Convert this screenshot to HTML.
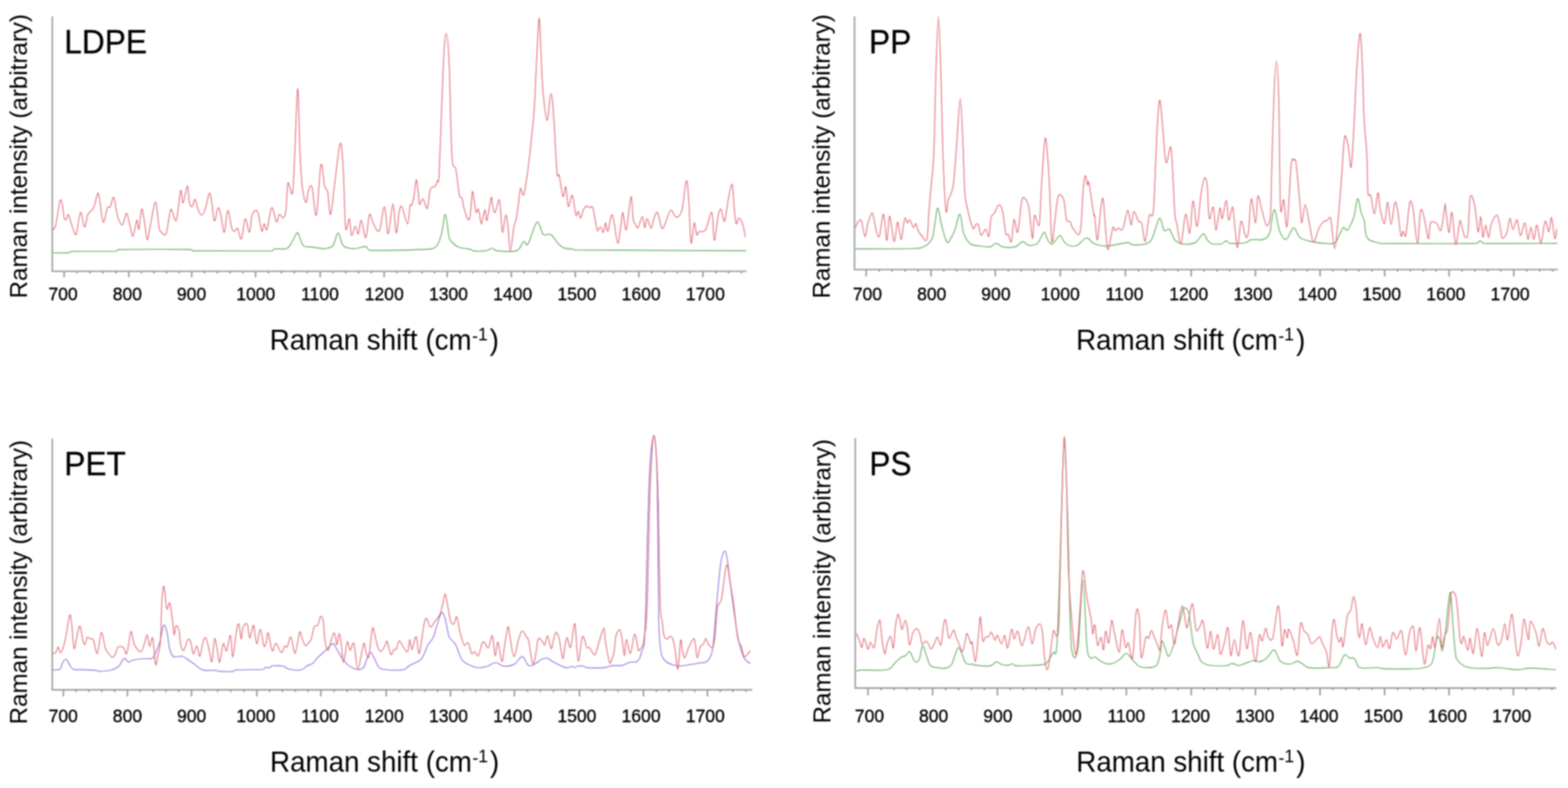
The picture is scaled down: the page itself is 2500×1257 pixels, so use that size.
<!DOCTYPE html>
<html><head><meta charset="utf-8"><title>Raman spectra</title>
<style>html,body{margin:0;padding:0;background:#fff;overflow:hidden}svg{display:block}#w{filter:blur(0.8px)}</style></head>
<body><div id="w"><svg width="2500" height="1257" viewBox="0 0 2500 1257" font-family="'Liberation Sans', Arial, sans-serif">
<rect width="2500" height="1257" fill="#fff"/>
<path d="M83.3,26 L83.3,432.7 L1190,432.7" fill="none" stroke="#a4a4a4" stroke-width="2.6"/>
<path d="M102.2,432.7 v9.5 M122.8,432.7 v3.5 M143.5,432.7 v3.5 M164.1,432.7 v3.5 M184.8,432.7 v3.5 M205.4,432.7 v9.5 M225.4,432.7 v3.5 M245.5,432.7 v3.5 M265.5,432.7 v3.5 M285.6,432.7 v3.5 M305.6,432.7 v9.5 M326.0,432.7 v3.5 M346.4,432.7 v3.5 M366.7,432.7 v3.5 M387.1,432.7 v3.5 M407.5,432.7 v9.5 M428.1,432.7 v3.5 M448.7,432.7 v3.5 M469.3,432.7 v3.5 M489.9,432.7 v3.5 M510.5,432.7 v9.5 M530.9,432.7 v3.5 M551.3,432.7 v3.5 M571.7,432.7 v3.5 M592.1,432.7 v3.5 M612.5,432.7 v9.5 M632.6,432.7 v3.5 M652.7,432.7 v3.5 M672.7,432.7 v3.5 M692.8,432.7 v3.5 M712.9,432.7 v9.5 M733.4,432.7 v3.5 M753.9,432.7 v3.5 M774.3,432.7 v3.5 M794.8,432.7 v3.5 M815.3,432.7 v9.5 M835.7,432.7 v3.5 M856.1,432.7 v3.5 M876.4,432.7 v3.5 M896.8,432.7 v3.5 M917.2,432.7 v9.5 M937.5,432.7 v3.5 M957.8,432.7 v3.5 M978.0,432.7 v3.5 M998.3,432.7 v3.5 M1018.6,432.7 v9.5 M1039.0,432.7 v3.5 M1059.5,432.7 v3.5 M1079.9,432.7 v3.5 M1100.4,432.7 v3.5 M1120.8,432.7 v9.5 M1141.2,432.7 v3.5 M1161.7,432.7 v3.5 M1182.1,432.7 v3.5" stroke="#999" stroke-width="2.4" fill="none"/>
<text transform="translate(100.6,479) scale(1,1.05)" x="0" y="0" font-size="28" text-anchor="middle" fill="#000" stroke="#000" stroke-width="0.45">700</text>
<text transform="translate(203.0,479) scale(1,1.05)" x="0" y="0" font-size="28" text-anchor="middle" fill="#000" stroke="#000" stroke-width="0.45">800</text>
<text transform="translate(305.4,479) scale(1,1.05)" x="0" y="0" font-size="28" text-anchor="middle" fill="#000" stroke="#000" stroke-width="0.45">900</text>
<text transform="translate(407.8,479) scale(1,1.05)" x="0" y="0" font-size="28" text-anchor="middle" fill="#000" stroke="#000" stroke-width="0.45">1000</text>
<text transform="translate(510.2,479) scale(1,1.05)" x="0" y="0" font-size="28" text-anchor="middle" fill="#000" stroke="#000" stroke-width="0.45">1100</text>
<text transform="translate(612.6,479) scale(1,1.05)" x="0" y="0" font-size="28" text-anchor="middle" fill="#000" stroke="#000" stroke-width="0.45">1200</text>
<text transform="translate(715.0,479) scale(1,1.05)" x="0" y="0" font-size="28" text-anchor="middle" fill="#000" stroke="#000" stroke-width="0.45">1300</text>
<text transform="translate(817.4,479) scale(1,1.05)" x="0" y="0" font-size="28" text-anchor="middle" fill="#000" stroke="#000" stroke-width="0.45">1400</text>
<text transform="translate(919.8,479) scale(1,1.05)" x="0" y="0" font-size="28" text-anchor="middle" fill="#000" stroke="#000" stroke-width="0.45">1500</text>
<text transform="translate(1022.2,479) scale(1,1.05)" x="0" y="0" font-size="28" text-anchor="middle" fill="#000" stroke="#000" stroke-width="0.45">1600</text>
<text transform="translate(1124.6,479) scale(1,1.05)" x="0" y="0" font-size="28" text-anchor="middle" fill="#000" stroke="#000" stroke-width="0.45">1700</text>
<path d="M84.5,403.4 C88.8,403.4 105.1,403.6 110.0,403.2 C114.0,402.8 110.0,401.4 114.0,401.0 C126.5,400.6 172.5,401.2 185.0,400.7 C189.0,400.2 185.0,398.6 189.0,398.2 C208.3,397.8 281.2,397.7 301.0,398.0 C307.8,398.3 306.7,399.8 307.8,400.2 C307.8,400.6 307.8,400.2 307.8,400.2 C328.7,400.2 411.5,400.7 433.2,400.2 C437.8,399.7 433.8,397.6 437.8,397.0 C441.8,396.4 452.6,398.4 457.4,396.3 C462.2,394.2 463.7,388.4 466.5,384.2 C469.3,380.0 472.3,371.5 474.3,371.0 C476.3,370.5 476.9,377.5 478.6,381.1 C480.3,384.7 481.6,390.4 484.6,392.5 C487.6,394.6 492.2,393.4 496.7,394.0 C501.2,394.6 508.5,395.8 511.8,396.3 C515.1,396.8 513.2,397.5 516.4,396.8 C519.5,396.1 526.9,396.2 530.7,392.0 C534.5,387.8 536.2,371.8 539.0,371.8 C541.8,371.8 543.2,387.8 547.4,392.0 C551.6,396.2 558.1,396.6 564.1,396.8 C570.1,397.0 578.8,392.9 583.2,393.3 C587.6,393.7 583.2,398.4 590.4,399.2 C605.2,400.0 654.9,398.9 672.3,398.0 C689.7,397.1 689.7,397.8 695.0,393.5 C700.3,389.2 701.5,380.9 704.0,372.3 C706.5,363.7 708.0,341.1 710.0,342.1 C712.0,343.1 714.4,371.2 716.1,378.4 C717.8,385.6 717.6,382.9 720.0,385.5 C722.4,388.1 725.1,391.7 730.3,393.8 C735.5,395.9 747.0,396.9 751.0,397.9 C754.1,398.9 751.0,399.6 754.1,400.0 C758.1,400.4 769.6,400.7 774.8,400.0 C780.0,399.3 782.3,395.9 785.2,395.9 C788.1,395.9 786.0,399.3 792.4,400.0 C798.8,400.7 816.3,402.4 823.4,400.0 C830.5,397.6 831.7,387.3 834.8,385.5 C837.9,383.7 838.2,394.6 841.8,389.4 C845.4,384.2 852.2,357.0 856.2,354.4 C860.2,351.8 862.5,370.3 865.7,373.5 C868.9,376.7 872.9,373.2 875.3,373.5 C877.7,373.8 877.6,373.0 880.0,375.4 C882.4,377.8 886.3,384.5 889.5,387.9 C892.7,391.2 895.1,393.9 899.1,395.5 C903.1,397.1 910.2,396.8 913.4,397.4 C916.6,397.9 913.4,398.4 918.2,398.8 C964.2,399.2 1144.5,399.8 1189.7,400.0" fill="none" stroke="#5aa853" stroke-width="1.4" stroke-linejoin="round"/>
<path d="M84.5,366.9 C85.2,365.6 87.1,366.7 88.9,359.0 C90.8,351.3 93.8,325.9 95.6,320.6 C97.4,315.3 98.4,322.4 99.5,327.0 C100.6,331.6 101.3,344.0 102.3,347.9 C103.3,351.8 104.5,351.1 105.6,350.2 C106.7,349.3 107.7,341.5 109.0,342.4 C110.3,343.3 111.9,351.3 113.4,355.7 C114.9,360.1 116.5,366.2 117.9,369.0 C119.3,371.8 120.0,377.5 121.8,372.4 C123.5,367.3 126.3,340.2 128.4,338.5 C130.5,336.8 132.7,361.8 134.6,362.4 C136.5,363.0 138.1,347.0 140.1,342.4 C142.1,337.8 145.1,336.8 146.8,334.6 C148.5,332.4 148.7,333.3 150.2,329.0 C151.7,324.7 154.3,311.2 155.7,309.0 C157.1,306.8 157.0,308.0 158.5,315.6 C160.0,323.2 162.5,352.0 164.6,354.6 C166.7,357.2 169.4,335.3 171.3,331.2 C173.2,327.1 174.1,332.9 175.8,330.1 C177.5,327.3 179.6,313.2 181.3,314.5 C183.0,315.8 184.5,331.9 185.8,337.9 C187.1,343.8 187.6,346.7 189.1,350.2 C190.6,353.7 193.2,358.8 194.7,359.0 C196.2,359.2 196.9,354.4 198.1,351.3 C199.3,348.2 200.4,339.0 201.9,340.1 C203.4,341.2 205.2,351.9 206.9,358.0 C208.6,364.1 210.1,378.0 212.0,376.9 C213.9,375.8 216.5,353.2 218.1,351.3 C219.7,349.4 220.1,368.7 221.4,365.7 C222.7,362.7 224.4,335.5 225.9,333.5 C227.4,331.5 228.8,345.4 230.3,353.5 C231.8,361.6 233.1,382.0 234.8,382.4 C236.5,382.8 238.2,365.7 240.4,355.7 C242.6,345.7 246.0,321.0 248.2,322.3 C250.4,323.6 252.0,355.3 253.7,363.5 C255.4,371.7 256.3,369.8 258.2,371.3 C260.1,372.8 262.7,378.1 264.9,372.4 C267.1,366.6 269.9,342.7 271.5,336.8 C273.1,330.9 272.9,334.6 274.5,337.0 C276.1,339.4 279.0,356.4 281.3,350.9 C283.6,345.4 286.3,308.6 288.1,304.1 C289.9,299.6 290.1,325.0 291.9,323.7 C293.7,322.4 297.1,296.8 298.7,296.5 C300.3,296.2 300.4,316.6 301.7,322.2 C303.0,327.8 304.8,330.6 306.3,329.8 C307.8,329.1 309.3,317.2 310.8,317.7 C312.3,318.2 313.5,328.5 315.3,332.8 C317.1,337.1 319.4,343.4 321.4,343.4 C323.4,343.4 325.4,338.6 327.4,332.8 C329.4,327.0 331.9,310.6 333.5,308.6 C335.1,306.6 335.9,313.4 337.3,320.7 C338.7,328.0 340.1,350.6 341.8,352.4 C343.6,354.2 346.0,332.6 347.8,331.3 C349.6,330.1 350.8,338.3 352.4,344.9 C354.0,351.4 355.9,372.1 357.7,370.6 C359.5,369.1 361.0,336.8 363.0,335.8 C365.0,334.8 367.9,359.0 369.8,364.5 C371.7,370.0 372.8,369.0 374.3,369.0 C375.8,369.0 377.0,362.5 378.8,364.5 C380.6,366.5 382.9,383.6 384.9,381.1 C386.9,378.6 388.8,351.1 390.9,349.4 C393.0,347.6 395.9,371.4 397.7,370.6 C399.5,369.9 399.9,350.7 401.5,344.9 C403.1,339.1 405.8,336.3 407.5,335.8 C409.2,335.3 410.4,336.3 412.0,341.8 C413.6,347.3 415.9,366.5 417.4,369.0 C418.9,371.5 419.7,357.5 421.1,357.0 C422.5,356.5 423.7,370.3 425.7,366.0 C427.7,361.7 430.7,333.3 433.2,331.3 C435.7,329.3 438.8,352.1 440.8,353.9 C442.8,355.6 443.5,342.8 445.3,341.8 C447.1,340.8 449.6,348.9 451.4,347.9 C453.2,346.9 454.6,345.1 455.9,335.8 C457.2,326.5 457.4,296.4 459.1,291.8 C460.8,287.2 464.5,315.6 466.3,308.5 C468.1,301.4 468.4,276.7 469.8,248.9 C471.2,221.1 473.2,143.1 474.6,141.5 C476.0,139.9 477.0,213.5 478.2,239.3 C479.4,265.2 480.2,282.7 481.8,296.6 C483.4,310.5 486.1,321.3 487.7,322.9 C489.3,324.5 489.7,310.2 491.3,306.0 C492.9,301.8 495.1,291.6 497.3,297.8 C499.5,304.0 502.0,349.0 504.4,343.2 C506.8,337.4 509.4,271.0 511.6,263.2 C513.8,255.4 515.8,289.5 517.6,296.6 C519.4,303.7 520.8,298.4 522.4,306.0 C524.0,313.6 525.1,345.1 527.1,342.0 C529.1,338.9 531.7,306.0 534.3,287.1 C536.9,268.2 540.4,231.0 542.6,228.6 C544.8,226.2 546.0,250.2 547.4,272.7 C548.8,295.2 549.4,350.7 551.0,363.4 C552.6,376.1 555.4,347.1 557.0,349.1 C558.6,351.1 558.9,373.4 560.5,375.4 C562.1,377.4 564.7,361.4 566.5,361.0 C568.3,360.6 569.7,374.6 571.3,373.0 C572.9,371.4 574.0,350.5 576.0,351.5 C578.0,352.5 581.0,380.6 583.2,379.0 C585.4,377.4 587.2,345.8 589.2,342.0 C591.2,338.2 592.5,351.9 595.1,356.3 C597.7,360.7 601.7,372.6 604.7,368.2 C607.7,363.8 610.6,329.2 613.0,330.0 C615.4,330.8 616.8,373.9 619.0,373.0 C621.2,372.1 624.3,325.1 626.4,324.9 C628.5,324.7 630.0,369.4 631.7,371.6 C633.4,373.8 635.0,345.2 636.5,338.2 C638.0,331.2 638.5,326.5 640.7,329.7 C642.9,332.9 647.6,357.5 649.8,357.3 C651.9,357.1 652.5,333.8 653.6,328.7 C654.7,323.6 655.4,329.7 656.5,326.8 C657.6,323.9 659.1,318.2 660.3,311.5 C661.5,304.8 662.5,287.3 663.6,286.7 C664.7,286.1 666.1,301.2 667.0,307.7 C667.9,314.2 667.6,324.2 668.9,325.8 C670.2,327.4 672.5,316.2 674.6,317.3 C676.7,318.4 679.4,335.1 681.3,332.5 C683.2,329.9 684.0,307.9 686.1,302.0 C688.2,296.1 691.8,299.4 693.7,297.2 C695.6,295.0 696.4,292.9 697.5,288.6 C698.6,284.3 698.8,302.9 700.4,271.5 C702.0,240.1 705.1,136.7 707.0,100.4 C708.9,64.1 710.1,53.6 711.6,53.6 C713.1,53.6 714.6,67.9 716.1,100.4 C717.6,132.9 718.8,220.3 720.6,248.5 C722.4,276.7 724.7,259.2 726.7,269.6 C728.7,280.0 730.8,303.2 732.4,311.0 C734.0,318.8 735.4,312.8 736.6,316.2 C737.8,319.6 738.1,326.0 739.7,331.7 C741.3,337.4 744.7,348.6 746.4,350.3 C748.1,352.0 748.9,349.5 750.0,342.1 C751.1,334.7 752.1,309.3 753.1,305.9 C754.1,302.4 755.2,315.9 756.2,321.4 C757.2,326.9 758.2,336.9 759.3,339.0 C760.4,341.1 761.6,330.9 762.9,333.8 C764.2,336.7 766.0,354.1 767.1,356.5 C768.2,358.9 768.7,351.9 769.7,348.3 C770.7,344.7 772.2,334.3 773.3,334.8 C774.4,335.3 774.8,354.7 776.4,351.4 C778.0,348.1 781.6,319.3 783.1,315.2 C784.6,311.1 784.2,322.6 785.2,326.6 C786.2,330.6 787.5,340.4 789.3,339.0 C791.1,337.6 794.5,317.8 796.0,318.3 C797.5,318.8 797.7,333.3 798.6,342.1 C799.5,350.9 799.9,370.8 801.2,371.0 C802.5,371.2 804.9,344.5 806.4,343.1 C807.9,341.7 808.8,353.3 810.0,362.8 C811.2,372.3 812.1,400.0 813.6,400.0 C815.1,400.0 817.8,371.2 819.3,362.8 C820.8,354.4 821.7,355.3 822.9,349.3 C824.1,343.3 825.4,334.7 826.5,326.6 C827.6,318.5 828.3,303.3 829.7,300.7 C831.1,298.1 833.0,314.3 834.8,311.0 C836.6,307.7 838.6,292.4 840.3,281.1 C842.0,269.8 843.1,260.0 845.0,243.0 C846.9,226.0 849.8,200.4 851.4,179.2 C853.0,157.9 853.3,140.4 854.6,115.5 C855.9,90.6 858.1,34.9 859.4,29.6 C860.7,24.3 861.5,64.6 862.5,83.7 C863.5,102.8 864.1,126.1 865.7,144.2 C867.3,162.2 870.0,191.2 872.1,192.0 C874.2,192.8 876.6,149.0 878.5,149.0 C880.4,149.0 881.6,171.0 883.2,192.0 C884.8,213.0 886.6,260.1 888.0,274.8 C889.4,289.5 889.9,273.6 891.5,280.0 C893.1,286.4 896.0,310.4 897.7,313.4 C899.5,316.4 900.6,295.4 902.0,298.1 C903.4,300.8 904.5,327.4 906.2,329.6 C908.0,331.8 910.5,309.3 912.5,311.5 C914.5,313.7 916.6,338.7 918.2,343.0 C919.8,347.3 920.7,336.5 922.0,337.3 C923.3,338.1 924.4,348.4 925.8,347.8 C927.2,347.2 928.9,336.7 930.6,333.5 C932.4,330.3 934.7,329.0 936.3,328.7 C937.9,328.4 938.7,331.2 940.1,331.5 C941.5,331.8 943.5,327.7 944.9,330.6 C946.3,333.5 947.4,342.5 948.7,348.7 C950.0,354.9 951.1,365.6 952.5,367.8 C953.9,370.0 955.7,361.6 957.3,362.1 C958.9,362.6 960.8,371.8 962.1,370.7 C963.5,369.6 964.2,355.7 965.4,355.4 C966.6,355.1 967.6,370.9 969.2,368.8 C970.8,366.7 973.3,345.1 975.0,343.0 C976.7,340.9 977.6,348.9 979.3,356.4 C981.0,363.9 983.2,387.1 985.0,387.9 C986.8,388.7 988.4,369.2 989.8,361.1 C991.1,353.0 991.7,338.2 993.1,339.2 C994.5,340.2 996.6,369.3 998.4,366.9 C1000.2,364.5 1002.7,333.5 1004.1,324.9 C1005.5,316.3 1006.0,311.3 1006.9,315.3 C1007.8,319.3 1008.5,342.2 1009.5,349.1 C1010.5,356.0 1011.4,354.5 1012.7,356.8 C1014.0,359.1 1015.3,365.0 1017.2,363.1 C1019.1,361.2 1022.4,345.3 1024.2,345.3 C1026.0,345.3 1026.7,362.5 1028.0,363.1 C1029.3,363.7 1030.1,348.9 1031.8,349.1 C1033.5,349.3 1036.5,364.2 1038.2,364.4 C1039.9,364.6 1040.3,354.6 1042.0,350.4 C1043.7,346.1 1046.2,336.6 1048.4,338.9 C1050.6,341.2 1053.1,362.3 1055.4,364.4 C1057.7,366.5 1060.1,356.6 1062.4,351.7 C1064.7,346.8 1066.8,336.0 1069.4,335.1 C1072.1,334.2 1075.3,346.6 1078.3,346.6 C1081.3,346.6 1084.5,344.8 1087.2,335.1 C1089.9,325.4 1092.4,291.6 1094.2,288.6 C1096.0,285.6 1096.7,300.9 1098.0,317.3 C1099.3,333.8 1100.3,380.9 1101.8,387.3 C1103.3,393.7 1105.4,357.6 1106.9,355.5 C1108.4,353.4 1109.5,372.3 1110.8,374.6 C1112.1,376.9 1112.3,370.8 1114.6,369.5 C1116.9,368.2 1121.4,372.0 1124.8,366.9 C1128.2,361.8 1132.7,336.1 1135.0,338.9 C1137.3,341.7 1137.1,382.6 1138.8,383.5 C1140.5,384.4 1143.3,352.3 1145.1,344.0 C1146.9,335.7 1147.9,332.3 1149.6,333.8 C1151.3,335.3 1153.3,356.1 1155.3,352.9 C1157.3,349.7 1159.7,324.4 1161.7,314.7 C1163.7,304.9 1165.9,291.6 1167.4,294.4 C1168.9,297.2 1169.5,320.9 1170.6,331.3 C1171.7,341.7 1172.5,354.1 1173.8,356.8 C1175.1,359.6 1176.4,347.4 1178.2,347.8 C1180.0,348.2 1182.9,354.2 1184.6,359.3 C1186.3,364.4 1187.8,375.2 1188.4,378.4" fill="none" stroke="#e2707b" stroke-width="1.5" stroke-linejoin="round"/>
<text transform="translate(102.5,84.8) scale(1.01,1.065)" x="0" y="0" font-size="50" fill="#000" stroke="#000" stroke-width="0.35">LDPE</text>
<text transform="translate(42.5,476) rotate(-90)" x="0" y="0" font-size="38.5" fill="#000">Raman intensity (arbitrary)</text>
<text transform="translate(430.1,557.8) scale(1,1.03)" x="0" y="0" font-size="44.2" fill="#000">Raman shift (cm<tspan x="322.6" y="-11.4" font-size="28">-</tspan><tspan x="331.8" y="-14.1" font-size="28">1</tspan><tspan x="350.7" y="0">)</tspan></text>
<path d="M1362.4,26 L1362.4,430 L2484,430" fill="none" stroke="#a4a4a4" stroke-width="2.6"/>
<path d="M1381.0,430 v11 M1401.7,430 v3.5 M1422.3,430 v3.5 M1443.0,430 v3.5 M1463.6,430 v3.5 M1484.3,430 v11 M1504.8,430 v3.5 M1525.3,430 v3.5 M1545.9,430 v3.5 M1566.4,430 v3.5 M1586.9,430 v11 M1607.6,430 v3.5 M1628.4,430 v3.5 M1649.1,430 v3.5 M1669.9,430 v3.5 M1690.6,430 v11 M1711.3,430 v3.5 M1732.1,430 v3.5 M1752.8,430 v3.5 M1773.6,430 v3.5 M1794.3,430 v11 M1815.3,430 v3.5 M1836.3,430 v3.5 M1857.2,430 v3.5 M1878.2,430 v3.5 M1899.2,430 v11 M1919.7,430 v3.5 M1940.2,430 v3.5 M1960.6,430 v3.5 M1981.1,430 v3.5 M2001.6,430 v11 M2022.2,430 v3.5 M2042.8,430 v3.5 M2063.5,430 v3.5 M2084.1,430 v3.5 M2104.7,430 v11 M2125.3,430 v3.5 M2145.9,430 v3.5 M2166.5,430 v3.5 M2187.1,430 v3.5 M2207.7,430 v11 M2228.2,430 v3.5 M2248.7,430 v3.5 M2269.3,430 v3.5 M2289.8,430 v3.5 M2310.3,430 v11 M2331.0,430 v3.5 M2351.6,430 v3.5 M2372.3,430 v3.5 M2392.9,430 v3.5 M2413.6,430 v11 M2434.3,430 v3.5 M2454.9,430 v3.5 M2475.6,430 v3.5" stroke="#999" stroke-width="2.4" fill="none"/>
<text transform="translate(1383.0,479) scale(1,1.05)" x="0" y="0" font-size="28" text-anchor="middle" fill="#000" stroke="#000" stroke-width="0.45">700</text>
<text transform="translate(1485.5,479) scale(1,1.05)" x="0" y="0" font-size="28" text-anchor="middle" fill="#000" stroke="#000" stroke-width="0.45">800</text>
<text transform="translate(1587.9,479) scale(1,1.05)" x="0" y="0" font-size="28" text-anchor="middle" fill="#000" stroke="#000" stroke-width="0.45">900</text>
<text transform="translate(1690.4,479) scale(1,1.05)" x="0" y="0" font-size="28" text-anchor="middle" fill="#000" stroke="#000" stroke-width="0.45">1000</text>
<text transform="translate(1792.9,479) scale(1,1.05)" x="0" y="0" font-size="28" text-anchor="middle" fill="#000" stroke="#000" stroke-width="0.45">1100</text>
<text transform="translate(1895.3,479) scale(1,1.05)" x="0" y="0" font-size="28" text-anchor="middle" fill="#000" stroke="#000" stroke-width="0.45">1200</text>
<text transform="translate(1997.8,479) scale(1,1.05)" x="0" y="0" font-size="28" text-anchor="middle" fill="#000" stroke="#000" stroke-width="0.45">1300</text>
<text transform="translate(2100.3,479) scale(1,1.05)" x="0" y="0" font-size="28" text-anchor="middle" fill="#000" stroke="#000" stroke-width="0.45">1400</text>
<text transform="translate(2202.8,479) scale(1,1.05)" x="0" y="0" font-size="28" text-anchor="middle" fill="#000" stroke="#000" stroke-width="0.45">1500</text>
<text transform="translate(2305.2,479) scale(1,1.05)" x="0" y="0" font-size="28" text-anchor="middle" fill="#000" stroke="#000" stroke-width="0.45">1600</text>
<text transform="translate(2407.7,479) scale(1,1.05)" x="0" y="0" font-size="28" text-anchor="middle" fill="#000" stroke="#000" stroke-width="0.45">1700</text>
<path d="M1364.0,397.0 C1379.2,396.9 1437.6,397.1 1455.5,396.6 C1471.4,396.1 1467.0,395.4 1471.4,393.9 C1475.8,392.4 1479.1,390.3 1481.7,387.5 C1484.3,384.7 1485.7,383.2 1487.3,377.0 C1488.9,370.8 1490.2,357.5 1491.5,350.0 C1492.8,342.5 1493.7,330.3 1495.4,332.1 C1497.1,333.9 1499.3,351.8 1501.7,360.8 C1504.1,369.8 1507.3,383.0 1509.7,386.2 C1512.1,389.4 1513.9,383.2 1516.0,380.0 C1518.1,376.8 1520.0,373.5 1522.4,367.1 C1524.8,360.7 1528.0,340.6 1530.4,341.7 C1532.8,342.8 1533.9,365.6 1536.8,373.5 C1539.7,381.4 1544.0,386.3 1547.9,389.4 C1551.8,392.5 1554.9,391.3 1560.0,392.0 C1565.1,392.7 1573.7,394.5 1578.4,393.8 C1583.1,393.1 1585.1,388.0 1588.4,388.0 C1591.8,388.0 1593.5,392.8 1598.5,393.8 C1603.5,394.8 1613.2,395.2 1618.5,393.8 C1623.8,392.4 1626.6,385.9 1630.2,385.5 C1633.8,385.1 1636.3,390.8 1640.2,391.3 C1644.1,391.9 1650.2,391.2 1653.6,388.8 C1656.9,386.4 1658.3,380.2 1660.3,377.1 C1662.2,374.0 1663.6,369.6 1665.3,370.4 C1667.0,371.2 1668.3,378.9 1670.3,382.1 C1672.2,385.3 1674.5,389.9 1677.0,389.6 C1679.5,389.3 1683.1,382.9 1685.3,380.5 C1687.5,378.1 1688.7,374.8 1690.4,375.4 C1692.1,375.9 1693.2,381.1 1695.4,383.8 C1697.6,386.5 1700.1,390.1 1703.7,391.3 C1707.3,392.6 1712.4,393.2 1717.1,391.3 C1721.8,389.4 1727.9,380.3 1732.1,379.6 C1736.3,378.9 1739.1,385.3 1742.1,387.1 C1745.1,388.9 1746.0,389.6 1750.0,390.5 C1754.0,391.4 1757.8,393.0 1765.8,392.4 C1773.8,391.8 1791.6,387.4 1798.0,387.0 C1804.4,386.6 1799.8,389.9 1804.4,390.3 C1809.1,390.7 1820.5,390.8 1825.9,389.2 C1831.3,387.6 1832.9,387.4 1836.7,380.6 C1840.5,373.8 1845.3,350.5 1848.5,348.4 C1851.7,346.2 1853.3,364.8 1856.0,367.7 C1858.7,370.6 1861.7,363.1 1864.6,365.6 C1867.5,368.1 1869.6,378.9 1873.2,382.8 C1876.8,386.7 1880.7,388.5 1886.1,389.2 C1891.5,389.9 1900.0,389.7 1905.4,387.0 C1910.8,384.3 1915.0,373.8 1918.3,373.1 C1921.6,372.4 1922.7,380.1 1925.0,382.7 C1927.3,385.3 1928.2,387.9 1932.0,388.9 C1935.8,389.9 1943.9,389.7 1947.7,388.9 C1951.5,388.1 1952.4,384.1 1954.7,384.0 C1957.0,383.9 1956.5,387.9 1961.7,388.4 C1967.0,388.9 1980.7,388.1 1986.2,387.1 C1991.8,386.1 1990.6,383.1 1995.0,382.3 C1999.4,381.5 2008.1,383.1 2012.5,382.3 C2016.9,381.5 2019.0,380.1 2021.2,377.5 C2023.4,374.9 2024.6,370.6 2025.6,367.0 C2026.6,363.4 2026.0,361.0 2027.1,355.6 C2028.2,350.2 2030.2,332.4 2032.4,334.6 C2034.6,336.8 2037.2,360.8 2040.2,368.7 C2043.2,376.6 2047.0,382.7 2050.7,381.8 C2054.4,380.9 2058.8,363.9 2062.5,363.5 C2066.2,363.1 2068.0,375.5 2073.0,379.2 C2078.0,382.9 2086.5,384.3 2092.7,385.8 C2098.9,387.3 2104.2,387.7 2110.0,388.0 C2115.8,388.3 2123.3,390.1 2127.7,387.6 C2132.1,385.1 2134.1,377.0 2136.5,372.8 C2138.9,368.6 2140.4,363.5 2142.4,362.5 C2144.4,361.5 2145.6,369.7 2148.3,367.0 C2151.0,364.3 2155.9,354.7 2158.6,346.3 C2161.3,337.9 2162.5,317.9 2164.5,316.9 C2166.5,315.9 2168.7,334.7 2170.4,340.4 C2172.2,346.1 2173.8,345.8 2175.0,351.2 C2176.2,356.6 2176.4,368.0 2177.6,373.1 C2178.8,378.2 2179.5,379.7 2182.0,381.9 C2184.5,384.1 2189.3,385.1 2192.5,386.2 C2195.7,387.3 2197.8,388.0 2201.2,388.4 C2204.6,388.8 2201.2,388.5 2213.1,388.5 C2238.6,388.5 2329.8,388.9 2354.0,388.3 C2358.0,387.7 2356.7,385.6 2358.0,385.0 C2359.3,384.4 2360.7,384.4 2362.0,385.0 C2363.3,385.6 2362.0,387.8 2366.0,388.3 C2386.2,388.9 2463.5,388.3 2483.0,388.3" fill="none" stroke="#5aa853" stroke-width="1.4" stroke-linejoin="round"/>
<path d="M1364.0,363.6 C1364.7,362.0 1366.4,356.0 1368.0,354.1 C1369.6,352.2 1371.7,348.6 1373.5,352.5 C1375.3,356.4 1377.4,376.7 1379.1,377.2 C1380.8,377.7 1382.1,361.9 1383.9,355.7 C1385.8,349.5 1388.6,340.8 1390.2,339.8 C1391.8,338.9 1392.3,345.0 1393.5,350.0 C1394.7,355.0 1396.0,365.6 1397.4,370.0 C1398.9,374.4 1400.5,380.9 1402.2,376.4 C1403.9,371.9 1406.3,347.1 1407.7,343.0 C1409.1,338.9 1409.4,345.2 1410.5,352.0 C1411.6,358.8 1412.8,384.6 1414.1,383.5 C1415.4,382.4 1416.8,348.4 1418.1,345.3 C1419.4,342.2 1420.7,358.4 1422.0,365.0 C1423.3,371.6 1424.5,386.8 1426.0,385.1 C1427.5,383.4 1429.5,358.1 1430.8,354.9 C1432.0,351.7 1432.4,361.5 1433.5,366.0 C1434.6,370.5 1436.0,383.1 1437.2,381.9 C1438.4,380.7 1439.4,364.6 1440.4,358.9 C1441.5,353.2 1442.5,348.2 1443.5,347.7 C1444.5,347.2 1445.5,355.2 1446.7,355.7 C1447.9,356.2 1449.1,349.7 1450.7,350.9 C1452.3,352.1 1454.7,361.9 1456.3,362.8 C1457.9,363.7 1458.9,355.6 1460.2,356.5 C1461.5,357.4 1462.6,365.1 1464.2,368.4 C1465.8,371.7 1467.5,374.1 1469.8,376.4 C1472.0,378.6 1475.8,388.0 1477.7,381.9 C1479.6,375.8 1479.8,353.4 1480.9,339.8 C1482.0,326.2 1482.9,316.4 1484.2,300.3 C1485.5,284.2 1487.7,273.8 1489.0,243.0 C1490.3,212.2 1491.0,151.6 1492.2,115.5 C1493.4,79.4 1495.0,26.4 1496.3,26.4 C1497.6,26.4 1498.9,79.4 1500.1,115.5 C1501.3,151.6 1502.0,206.4 1503.3,243.0 C1504.6,279.6 1506.6,322.8 1508.1,335.3 C1509.5,347.8 1510.7,322.2 1512.0,318.0 C1513.3,313.8 1514.6,314.5 1516.0,309.8 C1517.4,305.1 1518.9,303.8 1520.5,290.0 C1522.1,276.2 1523.8,249.2 1525.6,227.0 C1527.3,204.8 1529.4,157.0 1531.0,157.0 C1532.6,157.0 1534.0,202.1 1535.2,227.0 C1536.4,251.9 1537.0,288.6 1538.3,306.6 C1539.6,324.7 1541.0,325.7 1543.1,335.3 C1545.2,344.9 1548.9,360.2 1551.1,364.0 C1553.2,367.8 1554.5,358.9 1556.0,358.0 C1557.5,357.1 1558.6,355.8 1560.0,358.7 C1561.4,361.6 1562.2,374.3 1564.2,375.4 C1566.2,376.5 1569.6,365.1 1571.7,365.4 C1573.8,365.7 1575.3,380.2 1576.7,377.1 C1578.1,374.0 1578.7,353.1 1580.1,347.0 C1581.5,340.9 1583.0,343.7 1585.1,340.4 C1587.2,337.1 1590.4,327.6 1592.6,327.0 C1594.8,326.4 1596.7,329.5 1598.5,337.0 C1600.3,344.5 1602.0,365.9 1603.5,372.1 C1605.0,378.3 1606.0,371.8 1607.5,374.0 C1609.0,376.2 1611.2,389.4 1612.7,385.5 C1614.2,381.6 1615.1,352.9 1616.8,350.4 C1618.5,347.9 1620.8,374.9 1622.7,370.4 C1624.7,365.9 1626.8,332.8 1628.5,323.6 C1630.2,314.4 1630.8,314.2 1632.7,315.3 C1634.7,316.4 1638.0,319.4 1640.2,330.3 C1642.4,341.2 1644.6,378.3 1646.1,380.5 C1647.6,382.7 1647.6,347.3 1649.4,343.7 C1651.2,340.1 1655.1,365.9 1656.9,358.7 C1658.7,351.5 1658.8,323.1 1660.3,300.3 C1661.8,277.5 1664.4,230.1 1666.1,221.7 C1667.8,213.3 1669.0,236.4 1670.3,250.1 C1671.5,263.8 1672.5,281.0 1673.6,303.6 C1674.7,326.2 1675.6,377.7 1677.0,385.5 C1678.4,393.3 1680.3,362.4 1682.0,350.4 C1683.7,338.4 1685.0,319.7 1687.0,313.6 C1689.0,307.5 1692.0,311.9 1693.7,313.6 C1695.4,315.3 1695.9,317.5 1697.0,323.6 C1698.1,329.7 1698.9,345.4 1700.4,350.4 C1701.9,355.4 1704.5,351.5 1706.2,353.7 C1707.9,355.9 1707.8,360.9 1710.4,363.7 C1713.1,366.5 1719.3,381.0 1722.1,370.4 C1724.9,359.8 1725.7,315.3 1727.1,300.3 C1728.5,285.3 1729.4,281.1 1730.5,280.2 C1731.6,279.3 1732.8,293.2 1733.8,295.2 C1734.8,297.1 1734.6,284.1 1736.3,291.9 C1738.0,299.7 1742.3,333.3 1743.8,342.0 C1745.3,350.7 1744.4,337.3 1745.4,344.1 C1746.4,350.9 1748.1,384.6 1749.7,382.8 C1751.3,381.0 1753.5,344.1 1755.0,333.3 C1756.5,322.6 1757.5,311.1 1758.9,318.3 C1760.3,325.5 1762.3,363.1 1763.6,376.3 C1764.9,389.6 1765.1,400.0 1766.9,397.8 C1768.7,395.6 1772.6,368.4 1774.4,363.4 C1776.2,358.4 1776.6,368.0 1778.0,368.0 C1779.4,368.0 1781.5,363.6 1783.0,363.4 C1784.5,363.2 1785.6,367.4 1787.0,367.0 C1788.4,366.6 1789.8,366.6 1791.6,361.3 C1793.4,356.1 1796.0,335.9 1798.0,335.5 C1800.0,335.1 1801.8,358.8 1803.4,359.1 C1805.0,359.5 1805.7,338.7 1807.7,337.6 C1809.7,336.5 1813.1,349.5 1815.2,352.7 C1817.3,355.9 1818.8,351.6 1820.6,357.0 C1822.4,362.4 1823.9,387.0 1825.9,384.9 C1827.9,382.8 1830.2,352.0 1832.4,344.1 C1834.6,336.2 1837.0,353.7 1838.8,337.6 C1840.6,321.5 1841.8,273.2 1843.1,247.4 C1844.3,221.6 1845.2,197.5 1846.3,183.0 C1847.4,168.5 1848.3,156.8 1849.6,160.4 C1850.9,164.0 1852.3,187.9 1853.9,204.4 C1855.5,220.9 1857.1,254.2 1859.2,259.2 C1861.3,264.2 1864.9,231.1 1866.7,234.5 C1868.5,237.9 1868.9,261.7 1870.0,279.6 C1871.1,297.5 1872.1,329.0 1873.2,341.9 C1874.3,354.8 1874.8,349.1 1876.4,357.0 C1878.0,364.9 1880.6,391.7 1882.9,389.2 C1885.2,386.7 1888.1,344.8 1890.4,341.9 C1892.7,339.0 1894.8,375.6 1896.8,372.0 C1898.8,368.4 1900.2,322.2 1902.2,320.4 C1904.2,318.6 1906.4,363.4 1908.6,361.3 C1910.8,359.2 1913.1,320.5 1915.1,307.6 C1917.1,294.7 1918.9,286.0 1920.5,283.9 C1922.1,281.8 1923.7,287.6 1924.7,294.7 C1925.7,301.8 1925.7,317.6 1926.3,326.7 C1926.9,335.8 1927.1,348.9 1928.5,349.5 C1929.9,350.1 1932.9,327.3 1934.6,330.2 C1936.3,333.1 1936.8,366.7 1938.6,367.0 C1940.3,367.3 1943.4,335.1 1945.1,332.0 C1946.8,328.9 1946.9,350.7 1948.6,348.6 C1950.3,346.6 1953.5,319.3 1955.2,319.7 C1957.0,320.1 1957.4,349.4 1959.1,351.2 C1960.8,352.9 1963.6,328.7 1965.2,330.2 C1966.8,331.7 1967.4,349.2 1968.7,360.0 C1970.0,370.8 1971.4,396.2 1973.1,395.0 C1974.8,393.8 1976.6,355.9 1978.8,353.0 C1981.0,350.1 1984.2,374.9 1986.2,377.5 C1988.2,380.1 1989.1,378.8 1990.6,368.7 C1992.1,358.6 1993.1,319.3 1995.0,317.1 C1996.9,314.9 2000.2,356.3 2002.0,355.6 C2003.8,354.9 2003.9,316.4 2005.5,312.7 C2007.1,309.0 2009.3,325.8 2011.6,333.7 C2013.9,341.6 2017.2,358.2 2019.5,360.0 C2021.8,361.8 2024.3,355.9 2025.6,344.2 C2026.9,332.5 2026.2,320.9 2027.1,290.0 C2028.0,259.1 2029.7,190.8 2031.0,158.7 C2032.3,126.5 2033.7,97.1 2035.0,97.1 C2036.3,97.1 2037.8,120.0 2038.9,158.7 C2040.0,197.4 2040.2,302.6 2041.5,329.3 C2042.8,356.0 2045.0,313.6 2046.8,318.8 C2048.6,324.1 2050.0,370.0 2052.0,360.8 C2054.0,351.6 2056.8,281.2 2058.6,263.7 C2060.3,246.2 2061.2,256.3 2062.5,255.9 C2063.8,255.5 2064.8,248.9 2066.5,261.1 C2068.2,273.3 2071.5,313.6 2073.0,329.3 C2074.5,345.1 2074.4,356.0 2075.7,355.6 C2077.0,355.2 2078.9,326.7 2080.9,326.7 C2082.9,326.7 2085.3,345.8 2087.5,355.6 C2089.7,365.5 2091.4,384.5 2094.0,385.8 C2096.6,387.1 2100.3,369.0 2103.2,363.5 C2106.0,358.0 2109.0,354.9 2111.1,353.0 C2113.2,351.1 2114.1,352.8 2115.9,352.2 C2117.7,351.6 2119.8,341.9 2121.8,349.3 C2123.8,356.7 2125.7,396.4 2127.7,396.4 C2129.7,396.4 2131.6,369.4 2133.6,349.3 C2135.6,329.2 2137.8,297.5 2139.5,275.6 C2141.2,253.8 2142.2,225.1 2143.9,218.2 C2145.6,211.3 2148.1,226.3 2149.8,234.4 C2151.5,242.5 2152.7,271.7 2154.2,266.8 C2155.7,261.9 2157.1,230.5 2158.6,205.0 C2160.1,179.5 2161.4,138.9 2163.0,113.6 C2164.6,88.3 2166.8,55.7 2168.3,53.3 C2169.8,50.9 2170.8,76.6 2171.9,98.9 C2173.0,121.2 2173.6,162.8 2174.8,187.3 C2176.0,211.9 2178.1,226.2 2179.2,246.2 C2180.2,266.2 2180.0,296.6 2181.1,307.5 C2182.2,318.4 2183.8,306.4 2185.5,311.9 C2187.2,317.4 2189.7,341.4 2191.6,340.7 C2193.5,340.0 2195.4,308.9 2196.9,307.5 C2198.4,306.1 2198.7,323.8 2200.4,332.0 C2202.2,340.2 2205.4,358.1 2207.4,356.5 C2209.4,354.9 2210.8,322.1 2212.6,322.4 C2214.3,322.7 2216.0,358.1 2217.9,358.2 C2219.8,358.3 2222.2,327.0 2224.0,323.2 C2225.8,319.4 2226.8,326.8 2228.4,335.5 C2230.0,344.2 2232.2,370.2 2233.6,375.7 C2235.0,381.2 2235.8,368.8 2237.1,368.7 C2238.4,368.6 2239.8,382.5 2241.5,374.9 C2243.2,367.3 2245.7,330.1 2247.6,323.2 C2249.5,316.3 2250.8,322.9 2252.9,333.7 C2255.0,344.5 2257.9,387.7 2259.9,388.0 C2261.9,388.3 2263.2,341.9 2265.1,335.5 C2267.0,329.1 2269.1,341.9 2271.2,349.5 C2273.2,357.1 2275.8,380.0 2277.4,381.0 C2279.0,382.0 2278.7,359.7 2280.9,355.6 C2283.1,351.5 2287.7,354.6 2290.5,356.5 C2293.3,358.4 2295.3,371.5 2297.5,367.0 C2299.7,362.5 2302.4,335.5 2303.6,329.4 C2304.8,323.3 2303.7,323.5 2304.8,330.4 C2305.9,337.3 2308.4,369.6 2310.1,371.0 C2311.8,372.4 2313.1,335.6 2314.9,338.8 C2316.7,342.0 2318.8,387.7 2320.9,390.1 C2323.0,392.5 2325.7,357.7 2327.4,353.1 C2329.1,348.5 2329.6,358.4 2331.0,362.6 C2332.4,366.8 2334.2,376.8 2335.8,378.2 C2337.4,379.6 2339.2,381.8 2340.6,371.0 C2342.0,360.2 2342.4,320.9 2344.2,313.7 C2346.0,306.5 2349.2,318.6 2351.3,328.0 C2353.4,337.4 2355.1,366.8 2356.7,369.8 C2358.3,372.8 2359.6,344.5 2360.9,345.9 C2362.2,347.3 2363.1,376.0 2364.4,378.2 C2365.7,380.4 2367.1,358.9 2368.6,359.1 C2370.1,359.3 2371.9,379.5 2373.4,379.3 C2374.9,379.1 2375.3,363.9 2377.6,357.9 C2379.9,351.9 2384.5,341.5 2387.1,343.5 C2389.7,345.5 2391.7,363.6 2393.1,369.8 C2394.5,376.0 2393.9,380.3 2395.5,380.5 C2397.1,380.7 2400.6,376.4 2402.6,371.0 C2404.6,365.6 2405.8,349.1 2407.4,348.3 C2409.0,347.5 2410.3,365.8 2412.2,366.2 C2414.1,366.6 2416.7,349.1 2418.7,350.7 C2420.7,352.3 2422.0,375.0 2424.1,375.8 C2426.2,376.6 2429.3,354.5 2431.3,355.5 C2433.3,356.5 2434.5,380.5 2436.1,381.7 C2437.7,382.9 2439.2,362.6 2440.8,362.6 C2442.4,362.6 2444.0,382.3 2445.6,381.7 C2447.2,381.1 2448.5,358.1 2450.4,359.1 C2452.3,360.1 2454.7,388.7 2456.9,387.7 C2459.1,386.7 2461.4,356.1 2463.5,353.1 C2465.6,350.1 2467.8,370.8 2469.5,369.8 C2471.2,368.8 2472.0,345.3 2473.6,347.1 C2475.2,348.9 2477.6,377.5 2479.0,380.5 C2480.4,383.5 2481.5,367.6 2482.0,365.0" fill="none" stroke="#e2707b" stroke-width="1.5" stroke-linejoin="round"/>
<text transform="translate(1385.5,84.8) scale(1.01,1.065)" x="0" y="0" font-size="50" fill="#000" stroke="#000" stroke-width="0.35">PP</text>
<text transform="translate(1323.2,476.2) rotate(-90)" x="0" y="0" font-size="38.5" fill="#000">Raman intensity (arbitrary)</text>
<text transform="translate(1715.7,557.8) scale(1,1.03)" x="0" y="0" font-size="44.2" fill="#000">Raman shift (cm<tspan x="322.6" y="-11.4" font-size="28">-</tspan><tspan x="331.8" y="-14.1" font-size="28">1</tspan><tspan x="350.7" y="0">)</tspan></text>
<path d="M83.3,699.5 L83.3,1100.4 L1199.3,1100.4" fill="none" stroke="#a4a4a4" stroke-width="2.6"/>
<path d="M101.0,1100.4 v10.5 M121.4,1100.4 v3.5 M141.8,1100.4 v3.5 M162.3,1100.4 v3.5 M182.7,1100.4 v3.5 M203.1,1100.4 v10.5 M223.5,1100.4 v3.5 M244.0,1100.4 v3.5 M264.4,1100.4 v3.5 M284.9,1100.4 v3.5 M305.3,1100.4 v10.5 M326.1,1100.4 v3.5 M347.0,1100.4 v3.5 M367.8,1100.4 v3.5 M388.7,1100.4 v3.5 M409.5,1100.4 v10.5 M429.9,1100.4 v3.5 M450.3,1100.4 v3.5 M470.8,1100.4 v3.5 M491.2,1100.4 v3.5 M511.6,1100.4 v10.5 M532.4,1100.4 v3.5 M553.3,1100.4 v3.5 M574.1,1100.4 v3.5 M595.0,1100.4 v3.5 M615.8,1100.4 v10.5 M636.3,1100.4 v3.5 M656.8,1100.4 v3.5 M677.2,1100.4 v3.5 M697.7,1100.4 v3.5 M718.2,1100.4 v10.5 M738.6,1100.4 v3.5 M759.0,1100.4 v3.5 M779.3,1100.4 v3.5 M799.7,1100.4 v3.5 M820.1,1100.4 v10.5 M840.9,1100.4 v3.5 M861.6,1100.4 v3.5 M882.4,1100.4 v3.5 M903.1,1100.4 v3.5 M923.9,1100.4 v10.5 M944.3,1100.4 v3.5 M964.7,1100.4 v3.5 M985.2,1100.4 v3.5 M1005.6,1100.4 v3.5 M1026.0,1100.4 v10.5 M1046.4,1100.4 v3.5 M1066.8,1100.4 v3.5 M1087.1,1100.4 v3.5 M1107.5,1100.4 v3.5 M1127.9,1100.4 v10.5 M1148.3,1100.4 v3.5 M1168.7,1100.4 v3.5 M1189.0,1100.4 v3.5" stroke="#999" stroke-width="2.4" fill="none"/>
<text transform="translate(100.8,1151.8) scale(1,1.05)" x="0" y="0" font-size="28" text-anchor="middle" fill="#000" stroke="#000" stroke-width="0.45">700</text>
<text transform="translate(203.2,1151.8) scale(1,1.05)" x="0" y="0" font-size="28" text-anchor="middle" fill="#000" stroke="#000" stroke-width="0.45">800</text>
<text transform="translate(305.5,1151.8) scale(1,1.05)" x="0" y="0" font-size="28" text-anchor="middle" fill="#000" stroke="#000" stroke-width="0.45">900</text>
<text transform="translate(407.9,1151.8) scale(1,1.05)" x="0" y="0" font-size="28" text-anchor="middle" fill="#000" stroke="#000" stroke-width="0.45">1000</text>
<text transform="translate(510.3,1151.8) scale(1,1.05)" x="0" y="0" font-size="28" text-anchor="middle" fill="#000" stroke="#000" stroke-width="0.45">1100</text>
<text transform="translate(612.6,1151.8) scale(1,1.05)" x="0" y="0" font-size="28" text-anchor="middle" fill="#000" stroke="#000" stroke-width="0.45">1200</text>
<text transform="translate(715.0,1151.8) scale(1,1.05)" x="0" y="0" font-size="28" text-anchor="middle" fill="#000" stroke="#000" stroke-width="0.45">1300</text>
<text transform="translate(817.4,1151.8) scale(1,1.05)" x="0" y="0" font-size="28" text-anchor="middle" fill="#000" stroke="#000" stroke-width="0.45">1400</text>
<text transform="translate(919.8,1151.8) scale(1,1.05)" x="0" y="0" font-size="28" text-anchor="middle" fill="#000" stroke="#000" stroke-width="0.45">1500</text>
<text transform="translate(1022.1,1151.8) scale(1,1.05)" x="0" y="0" font-size="28" text-anchor="middle" fill="#000" stroke="#000" stroke-width="0.45">1600</text>
<text transform="translate(1124.5,1151.8) scale(1,1.05)" x="0" y="0" font-size="28" text-anchor="middle" fill="#000" stroke="#000" stroke-width="0.45">1700</text>
<path d="M83.8,1068.3 C85.7,1068.2 92.6,1069.5 95.3,1067.7 C98.0,1065.9 98.1,1060.3 99.7,1057.5 C101.3,1054.7 103.2,1051.1 104.8,1051.1 C106.4,1051.1 107.3,1054.7 109.3,1057.5 C111.3,1060.3 113.3,1065.9 116.9,1067.7 C120.5,1069.5 125.2,1068.1 130.9,1068.3 C136.6,1068.5 146.4,1068.6 151.3,1069.0 C156.2,1069.4 155.5,1071.0 160.2,1070.9 C164.9,1070.8 174.4,1069.7 179.3,1068.3 C184.2,1066.9 186.4,1065.6 189.5,1062.6 C192.6,1059.6 195.2,1051.6 197.8,1050.5 C200.4,1049.4 202.8,1055.7 204.8,1056.2 C206.8,1056.7 206.9,1054.6 209.9,1053.7 C212.9,1052.8 217.3,1051.6 222.6,1051.1 C227.9,1050.6 237.9,1051.3 241.7,1050.5 C245.5,1049.7 243.4,1050.1 245.5,1046.0 C247.6,1041.9 251.8,1033.8 254.4,1025.7 C256.9,1017.7 258.9,1000.9 260.8,997.7 C262.7,994.5 264.4,1001.1 265.9,1006.6 C267.4,1012.1 268.5,1025.1 269.7,1031.0 C270.9,1036.9 271.6,1039.3 272.9,1042.1 C274.2,1044.9 274.6,1047.0 277.6,1047.8 C280.6,1048.6 287.5,1046.3 291.0,1046.9 C294.5,1047.5 295.3,1049.4 298.6,1051.6 C301.9,1053.8 306.9,1057.3 311.0,1060.2 C315.1,1063.1 317.9,1067.3 323.5,1068.8 C329.1,1070.3 340.4,1069.0 344.5,1069.3 C348.3,1069.6 344.5,1070.4 348.3,1070.7 C352.6,1071.0 365.4,1071.5 370.2,1071.2 C375.0,1070.9 370.2,1069.3 376.9,1068.8 C385.0,1068.2 411.3,1068.5 418.9,1067.9 C422.7,1067.3 420.8,1065.5 422.7,1065.0 C424.6,1064.5 428.5,1065.5 430.4,1065.0 C432.3,1064.5 430.7,1062.5 434.2,1062.1 C437.7,1061.7 447.6,1061.9 451.4,1062.6 C455.2,1063.2 454.7,1065.0 457.1,1066.0 C459.5,1067.0 461.7,1068.0 465.7,1068.4 C469.7,1068.8 477.2,1069.4 481.0,1068.4 C484.8,1067.4 485.7,1064.3 488.6,1062.6 C491.5,1060.9 495.0,1060.8 498.2,1058.3 C501.4,1055.8 504.2,1051.3 507.7,1047.8 C511.2,1044.3 515.4,1040.8 519.2,1037.3 C523.0,1033.8 527.7,1027.3 530.6,1026.8 C533.5,1026.3 533.9,1030.5 536.4,1034.5 C538.9,1038.5 542.7,1046.2 545.9,1050.7 C549.1,1055.2 551.5,1058.3 555.5,1061.2 C559.5,1064.1 565.8,1067.3 569.8,1067.9 C573.8,1068.5 576.9,1067.4 579.3,1065.0 C581.7,1062.6 582.3,1057.6 584.1,1053.6 C585.9,1049.6 588.4,1042.1 590.3,1041.1 C592.2,1040.1 593.5,1044.1 595.6,1047.8 C597.8,1051.5 600.4,1059.8 603.2,1063.1 C606.1,1066.4 606.3,1067.0 612.7,1067.9 C619.1,1068.9 635.0,1069.6 641.4,1068.8 C647.8,1068.0 648.2,1064.7 650.9,1063.1 C653.6,1061.5 654.4,1061.2 657.6,1059.4 C660.9,1057.6 667.2,1055.3 670.4,1052.4 C673.6,1049.5 674.8,1046.0 676.7,1042.2 C678.6,1038.4 679.5,1033.7 681.8,1029.5 C684.1,1025.3 688.2,1022.3 690.7,1016.8 C693.2,1011.3 694.9,1003.0 697.1,996.4 C699.3,989.8 702.0,978.8 704.1,977.3 C706.2,975.8 707.8,981.1 709.8,987.5 C711.8,993.9 713.4,1008.7 716.2,1015.5 C719.0,1022.3 723.0,1022.1 726.4,1028.2 C729.8,1034.4 732.6,1046.8 736.6,1052.4 C740.6,1058.0 745.9,1059.8 750.6,1061.9 C755.3,1064.0 760.2,1065.0 764.6,1065.1 C769.0,1065.2 772.9,1064.0 777.3,1062.6 C781.6,1061.2 786.5,1056.9 790.7,1056.9 C795.0,1056.9 798.0,1062.1 802.8,1062.6 C807.6,1063.1 814.3,1062.5 819.3,1060.0 C824.3,1057.5 829.1,1047.3 832.7,1047.3 C836.3,1047.3 838.7,1057.5 841.0,1060.0 C843.3,1062.5 844.5,1062.4 846.7,1062.1 C848.9,1061.8 851.4,1060.0 854.3,1058.3 C857.2,1056.5 860.7,1052.9 863.9,1051.6 C867.1,1050.2 870.2,1049.4 873.4,1050.2 C876.6,1051.0 878.2,1053.9 883.0,1056.4 C887.8,1058.9 897.3,1063.9 902.1,1065.0 C906.9,1066.1 909.2,1063.1 911.6,1063.1 C914.0,1063.1 914.8,1065.1 916.4,1065.0 C918.0,1064.9 918.7,1063.0 921.1,1062.6 C923.5,1062.2 928.3,1062.2 930.7,1062.6 C933.1,1063.0 930.7,1064.6 935.5,1065.0 C941.1,1065.4 957.7,1065.5 964.1,1065.0 C970.5,1064.5 968.9,1062.7 973.7,1062.1 C978.5,1061.5 987.6,1062.2 992.7,1061.2 C997.8,1060.2 1000.5,1057.4 1004.2,1056.4 C1007.9,1055.5 1012.0,1056.8 1014.7,1055.5 C1017.4,1054.2 1019.0,1051.7 1020.4,1048.8 C1021.8,1045.9 1022.2,1042.0 1023.3,1038.3 C1024.4,1034.6 1026.1,1038.0 1027.1,1026.8 C1028.1,1015.6 1028.8,994.6 1029.5,971.3 C1030.2,948.0 1030.7,918.9 1031.5,887.0 C1032.3,855.1 1033.4,807.8 1034.5,780.0 C1035.6,752.2 1036.6,734.2 1038.0,720.0 C1039.4,705.8 1041.6,694.5 1042.9,694.5 C1044.2,694.5 1045.2,705.8 1046.0,720.0 C1046.8,734.2 1047.5,752.2 1048.0,780.0 C1048.5,807.8 1048.8,852.0 1049.2,887.0 C1049.6,922.0 1049.8,966.9 1050.3,990.0 C1050.8,1013.1 1051.3,1016.2 1052.2,1025.8 C1053.1,1035.3 1053.9,1042.3 1055.7,1047.3 C1057.5,1052.3 1059.9,1053.6 1062.9,1055.9 C1065.9,1058.2 1070.1,1059.8 1073.7,1060.9 C1077.3,1062.0 1079.6,1062.5 1084.4,1062.3 C1089.2,1062.1 1096.9,1060.6 1102.3,1059.8 C1107.7,1059.0 1112.7,1057.9 1116.6,1057.3 C1120.5,1056.7 1123.0,1058.1 1125.9,1055.9 C1128.8,1053.8 1131.9,1049.4 1133.8,1044.4 C1135.7,1039.4 1136.0,1039.0 1137.4,1025.8 C1138.9,1012.5 1140.6,985.6 1142.5,964.9 C1144.4,944.1 1146.7,915.6 1148.8,901.3 C1150.9,887.0 1153.3,880.1 1155.2,879.0 C1157.1,877.9 1158.1,883.8 1159.9,894.9 C1161.8,906.0 1163.6,926.2 1166.3,945.8 C1169.0,965.4 1172.7,995.6 1175.9,1012.6 C1179.1,1029.6 1182.0,1039.9 1185.4,1047.6 C1188.8,1055.3 1194.7,1056.8 1196.5,1058.7" fill="none" stroke="#8c70da" stroke-width="1.4" stroke-linejoin="round"/>
<path d="M83.8,1042.2 C84.7,1042.0 87.4,1042.6 88.9,1040.9 C90.4,1039.2 91.5,1032.0 92.7,1032.0 C93.9,1032.0 94.6,1040.5 95.9,1040.9 C97.2,1041.3 98.8,1039.3 100.4,1034.6 C102.0,1029.9 103.7,1021.8 105.5,1012.9 C107.3,1004.0 109.7,983.9 111.2,981.1 C112.7,978.4 113.2,987.5 114.4,996.4 C115.6,1005.3 116.7,1032.0 118.2,1034.6 C119.7,1037.1 121.7,1017.7 123.3,1011.7 C124.9,1005.8 126.2,997.2 127.7,998.9 C129.2,1000.6 130.9,1016.9 132.2,1021.8 C133.5,1026.7 134.2,1029.0 135.4,1028.2 C136.6,1027.4 137.8,1018.3 139.2,1016.8 C140.6,1015.3 142.1,1018.7 143.7,1019.3 C145.3,1019.9 146.8,1016.8 148.7,1020.6 C150.6,1024.4 153.0,1044.1 155.1,1042.2 C157.2,1040.3 159.4,1010.6 161.5,1009.1 C163.6,1007.6 166.1,1028.0 167.8,1033.3 C169.5,1038.6 169.8,1038.4 171.7,1040.9 C173.6,1043.5 177.2,1048.4 179.3,1048.6 C181.4,1048.8 182.9,1045.0 184.4,1042.2 C185.9,1039.4 186.1,1033.5 188.2,1032.0 C190.3,1030.5 194.8,1031.6 197.1,1033.3 C199.4,1035.0 200.3,1046.5 202.2,1042.2 C204.1,1038.0 206.9,1011.2 208.6,1007.8 C210.3,1004.4 211.1,1017.8 212.4,1021.8 C213.7,1025.8 214.1,1029.0 216.2,1032.0 C218.3,1035.0 222.8,1040.5 225.1,1039.7 C227.4,1038.9 228.6,1031.4 230.2,1026.9 C231.8,1022.4 233.3,1012.2 234.7,1012.9 C236.1,1013.5 237.0,1030.0 238.5,1030.8 C240.0,1031.6 242.0,1013.1 243.6,1018.0 C245.2,1022.9 246.6,1055.8 248.0,1060.0 C249.4,1064.2 250.6,1049.4 251.9,1043.5 C253.2,1037.6 254.6,1038.6 255.7,1024.4 C256.8,1010.2 257.2,973.1 258.2,958.2 C259.1,943.4 260.1,933.2 261.4,935.3 C262.7,937.4 264.3,966.4 265.9,970.9 C267.5,975.4 269.4,959.0 270.9,962.0 C272.4,965.0 273.7,980.2 274.8,988.6 C275.9,997.0 276.7,1010.9 277.6,1012.5 C278.6,1014.1 279.2,999.5 280.5,998.2 C281.8,996.9 284.0,999.8 285.3,1004.9 C286.6,1010.0 286.8,1023.3 288.1,1028.7 C289.4,1034.1 291.0,1038.7 292.9,1037.3 C294.8,1035.9 297.7,1022.2 299.6,1020.1 C301.5,1018.0 303.0,1021.1 304.4,1024.9 C305.8,1028.7 306.6,1042.1 308.2,1043.1 C309.8,1044.0 312.1,1030.0 313.9,1030.6 C315.6,1031.2 317.1,1047.9 318.7,1046.9 C320.3,1046.0 321.9,1029.8 323.5,1024.9 C325.1,1020.0 326.6,1015.7 328.2,1017.3 C329.8,1018.9 331.4,1028.1 333.0,1034.5 C334.6,1040.9 336.3,1058.0 337.8,1055.5 C339.3,1053.0 340.7,1022.4 342.1,1019.2 C343.5,1016.0 345.0,1030.2 346.4,1036.4 C347.8,1042.6 348.6,1058.0 350.2,1056.4 C351.8,1054.8 354.1,1029.8 355.9,1026.8 C357.7,1023.8 359.3,1040.5 361.2,1038.3 C363.1,1036.1 365.7,1011.9 367.4,1013.5 C369.1,1015.1 369.6,1048.8 371.2,1047.8 C372.8,1046.8 375.3,1016.5 376.9,1007.7 C378.5,999.0 379.4,993.4 380.7,995.3 C382.0,997.2 383.5,1018.2 384.6,1019.2 C385.7,1020.2 385.8,1005.0 387.4,1001.0 C389.0,997.0 392.4,992.6 394.1,995.3 C395.9,998.0 396.6,1015.5 397.9,1017.3 C399.2,1019.0 400.6,1009.0 401.7,1005.8 C402.8,1002.6 403.3,994.7 404.6,998.2 C405.9,1001.7 407.6,1025.8 409.4,1026.8 C411.1,1027.8 413.2,1003.3 415.1,1003.9 C417.0,1004.5 419.2,1027.2 420.8,1030.6 C422.4,1033.9 423.6,1027.5 424.7,1024.0 C425.8,1020.5 425.9,1007.2 427.5,1009.6 C429.1,1012.0 432.1,1035.6 434.2,1038.3 C436.3,1041.0 437.5,1025.4 439.9,1025.9 C442.3,1026.4 446.1,1040.3 448.5,1041.1 C450.9,1041.9 452.6,1032.2 454.2,1030.6 C455.8,1029.0 456.5,1034.0 458.1,1031.6 C459.7,1029.2 461.7,1014.5 463.8,1016.3 C465.9,1018.0 468.2,1043.4 470.5,1042.1 C472.8,1040.8 475.9,1013.0 477.7,1008.7 C479.4,1004.4 479.5,1012.8 481.0,1016.3 C482.5,1019.8 484.9,1028.1 486.7,1029.7 C488.4,1031.3 489.9,1027.7 491.5,1025.9 C493.1,1024.2 494.7,1023.5 496.3,1019.2 C497.9,1014.9 499.2,1003.8 501.0,1000.1 C502.8,996.4 505.1,1000.0 506.8,997.2 C508.5,994.4 509.7,984.5 511.1,983.4 C512.5,982.3 514.4,985.2 515.4,990.5 C516.4,995.8 516.5,1008.5 517.3,1015.4 C518.1,1022.2 519.1,1027.9 520.1,1031.6 C521.1,1035.2 522.4,1038.2 523.5,1037.3 C524.6,1036.3 525.4,1030.4 526.8,1025.9 C528.1,1021.5 530.3,1012.7 531.6,1010.6 C532.9,1008.5 533.5,1010.5 534.5,1013.5 C535.5,1016.5 536.3,1029.2 537.3,1028.7 C538.3,1028.2 539.6,1010.9 540.7,1010.6 C541.8,1010.3 542.8,1019.2 544.0,1026.8 C545.2,1034.4 546.2,1056.9 547.8,1056.4 C549.4,1055.9 551.9,1027.2 553.6,1024.0 C555.4,1020.8 556.5,1036.8 558.3,1037.3 C560.0,1037.8 562.0,1021.9 564.1,1026.8 C566.2,1031.7 568.1,1066.9 570.7,1066.9 C573.3,1066.9 577.7,1031.4 579.8,1026.8 C581.9,1022.2 581.9,1035.7 583.2,1039.2 C584.6,1042.7 586.1,1053.8 587.9,1047.8 C589.6,1041.8 592.1,1008.9 593.7,1003.0 C595.3,997.1 596.1,1007.7 597.5,1012.5 C598.9,1017.3 600.6,1027.1 602.2,1031.6 C603.8,1036.0 605.1,1039.4 607.0,1039.2 C608.9,1039.0 612.0,1033.3 613.7,1030.6 C615.4,1027.9 615.4,1020.8 617.0,1023.0 C618.6,1025.2 621.4,1041.8 623.2,1044.0 C625.0,1046.2 626.6,1037.8 628.0,1036.4 C629.4,1035.0 630.4,1037.8 631.8,1035.4 C633.2,1033.0 634.7,1022.6 636.6,1022.1 C638.5,1021.6 641.1,1029.8 643.3,1032.6 C645.5,1035.4 648.4,1041.2 650.0,1039.2 C651.6,1037.2 652.0,1021.2 653.2,1020.6 C654.4,1020.0 655.3,1036.6 657.0,1035.8 C658.7,1035.0 661.5,1014.4 663.4,1015.5 C665.3,1016.6 666.5,1045.0 668.5,1042.2 C670.5,1039.4 673.6,1008.2 675.5,998.9 C677.4,989.6 678.1,986.0 679.9,986.2 C681.7,986.4 684.1,999.4 686.3,1000.2 C688.5,1001.1 690.9,994.5 693.3,991.3 C695.7,988.1 698.8,985.8 700.9,981.1 C703.0,976.4 704.5,968.9 706.0,963.3 C707.5,957.7 708.5,947.0 709.8,947.4 C711.1,947.8 712.2,958.5 713.7,965.8 C715.2,973.1 717.0,986.4 718.7,991.3 C720.4,996.2 722.2,996.4 723.8,995.1 C725.4,993.8 726.8,982.0 728.3,983.7 C729.8,985.4 731.3,999.4 732.7,1005.3 C734.1,1011.2 735.3,1015.3 736.6,1019.3 C737.9,1023.3 738.7,1028.4 740.4,1029.5 C742.1,1030.6 744.9,1023.6 746.8,1025.7 C748.7,1027.8 750.1,1039.9 751.8,1042.2 C753.5,1044.5 755.1,1039.1 756.9,1039.7 C758.7,1040.3 760.8,1048.1 762.7,1046.0 C764.6,1043.9 766.8,1030.5 768.4,1026.9 C770.0,1023.3 770.5,1023.3 772.2,1024.4 C773.9,1025.5 776.5,1035.0 778.6,1033.3 C780.7,1031.6 783.2,1012.1 785.0,1014.2 C786.8,1016.3 787.9,1044.3 789.4,1046.0 C790.9,1047.7 792.1,1022.9 793.9,1024.4 C795.7,1025.9 798.5,1053.4 800.2,1054.9 C801.9,1056.4 802.4,1042.4 804.0,1033.3 C805.6,1024.2 808.3,1003.2 809.8,1000.2 C811.3,997.2 811.4,1007.6 813.0,1015.5 C814.6,1023.4 817.0,1046.7 819.3,1047.3 C821.6,1047.9 824.8,1026.1 827.0,1019.3 C829.2,1012.5 830.5,1006.9 832.7,1006.6 C834.9,1006.3 838.3,1014.7 840.0,1017.3 C841.7,1019.9 841.3,1015.1 842.9,1022.1 C844.5,1029.1 847.6,1055.8 849.5,1059.3 C851.4,1062.8 852.9,1049.8 854.3,1043.1 C855.7,1036.4 856.5,1022.7 858.1,1019.2 C859.7,1015.7 862.1,1020.5 863.9,1022.1 C865.6,1023.7 867.1,1030.0 868.6,1028.7 C870.1,1027.4 871.2,1013.4 872.9,1014.4 C874.6,1015.4 877.2,1033.1 878.7,1034.5 C880.2,1035.9 880.7,1027.3 882.0,1023.0 C883.3,1018.7 884.7,1009.3 886.3,1008.7 C887.9,1008.1 889.8,1012.2 891.6,1019.2 C893.4,1026.2 895.7,1049.1 897.3,1050.7 C898.9,1052.3 899.9,1034.3 901.1,1028.7 C902.3,1023.1 903.0,1016.6 904.4,1017.3 C905.8,1017.9 907.8,1036.3 909.7,1032.6 C911.6,1028.9 914.5,998.6 915.9,995.3 C917.3,991.9 917.3,1002.6 918.3,1012.5 C919.3,1022.4 920.4,1054.0 922.1,1054.5 C923.9,1055.0 926.6,1019.0 928.8,1015.4 C931.0,1011.8 933.8,1029.7 935.5,1032.6 C937.2,1035.5 938.0,1031.6 939.3,1032.6 C940.6,1033.5 941.5,1036.4 943.1,1038.3 C944.7,1040.2 946.7,1046.5 948.8,1044.0 C950.9,1041.5 953.2,1030.0 955.5,1023.0 C957.8,1016.0 961.1,1002.1 962.7,1002.0 C964.3,1001.9 963.6,1013.0 965.1,1022.1 C966.6,1031.2 970.0,1051.5 971.7,1056.4 C973.5,1061.3 974.3,1054.6 975.6,1051.6 C976.9,1048.6 978.3,1044.6 979.4,1038.3 C980.5,1032.0 980.7,1019.1 982.2,1013.5 C983.7,1007.9 986.8,1003.9 988.4,1004.9 C990.0,1005.9 990.6,1012.4 991.8,1019.2 C993.0,1026.0 994.5,1045.8 995.6,1045.9 C996.7,1046.1 996.9,1020.7 998.5,1020.1 C1000.1,1019.5 1003.0,1043.5 1005.2,1042.1 C1007.4,1040.7 1009.7,1012.5 1011.8,1011.6 C1013.9,1010.7 1016.2,1032.3 1017.6,1036.4 C1019.0,1040.5 1018.7,1037.3 1020.0,1036.0 C1021.3,1034.7 1023.9,1033.0 1025.2,1028.7 C1026.5,1024.4 1027.2,1015.1 1028.0,1010.0 C1028.8,1004.9 1029.2,1010.0 1030.0,998.2 C1030.8,986.5 1031.8,970.5 1032.7,939.5 C1033.6,908.5 1034.5,847.1 1035.5,812.2 C1036.5,777.3 1037.9,749.6 1039.0,730.0 C1040.1,710.4 1041.0,695.3 1042.3,694.5 C1043.5,693.7 1045.3,707.4 1046.5,725.0 C1047.7,742.6 1048.7,770.8 1049.5,800.0 C1050.3,829.2 1050.6,870.8 1051.2,900.0 C1051.8,929.2 1052.5,960.0 1053.3,975.0 C1054.0,990.0 1054.8,983.6 1055.7,990.0 C1056.6,996.4 1057.3,1008.7 1058.6,1013.6 C1059.9,1018.5 1061.9,1019.1 1063.6,1019.4 C1065.3,1019.6 1067.0,1015.0 1068.6,1015.1 C1070.1,1015.2 1071.6,1016.5 1072.9,1020.1 C1074.2,1023.7 1075.2,1028.7 1076.5,1036.6 C1077.8,1044.5 1079.4,1069.9 1080.8,1067.4 C1082.2,1064.9 1083.9,1026.6 1085.1,1021.5 C1086.3,1016.4 1086.9,1031.9 1088.0,1036.6 C1089.1,1041.3 1089.9,1050.1 1091.6,1049.5 C1093.3,1048.9 1095.6,1038.1 1098.0,1033.0 C1100.4,1027.9 1104.1,1019.3 1105.9,1018.7 C1107.7,1018.1 1107.8,1024.3 1108.8,1029.4 C1109.8,1034.5 1110.3,1049.2 1111.6,1049.5 C1112.9,1049.8 1114.9,1035.2 1116.6,1031.5 C1118.3,1027.8 1120.2,1029.3 1121.6,1027.2 C1123.0,1025.1 1123.9,1018.6 1125.2,1018.7 C1126.5,1018.8 1127.6,1025.7 1129.5,1028.0 C1131.4,1030.3 1134.9,1035.0 1136.7,1032.3 C1138.5,1029.5 1139.1,1022.2 1140.3,1011.5 C1141.5,1000.8 1142.3,977.5 1144.0,968.1 C1145.7,958.8 1148.0,966.5 1150.4,955.4 C1152.8,944.3 1156.0,905.0 1158.4,901.3 C1160.8,897.6 1162.9,923.0 1164.7,933.1 C1166.5,943.2 1167.6,947.9 1169.5,961.7 C1171.4,975.5 1173.8,1004.1 1175.9,1015.8 C1178.0,1027.5 1180.4,1026.4 1182.2,1031.7 C1184.0,1037.0 1184.6,1046.5 1187.0,1047.6 C1189.4,1048.6 1194.9,1039.6 1196.5,1038.0" fill="none" stroke="#e2707b" stroke-width="1.5" stroke-linejoin="round"/>
<text transform="translate(102.5,757.8) scale(1.01,1.065)" x="0" y="0" font-size="50" fill="#000" stroke="#000" stroke-width="0.35">PET</text>
<text transform="translate(42.5,1155.5) rotate(-90)" x="0" y="0" font-size="38.5" fill="#000">Raman intensity (arbitrary)</text>
<text transform="translate(430.6,1231.0) scale(1,1.03)" x="0" y="0" font-size="44.2" fill="#000">Raman shift (cm<tspan x="322.6" y="-11.4" font-size="28">-</tspan><tspan x="331.8" y="-14.1" font-size="28">1</tspan><tspan x="350.7" y="0">)</tspan></text>
<path d="M1363.6,699 L1363.6,1097.6 L2481.4,1097.6" fill="none" stroke="#a4a4a4" stroke-width="2.6"/>
<path d="M1383.9,1097.6 v12 M1404.5,1097.6 v3.5 M1425.1,1097.6 v3.5 M1445.8,1097.6 v3.5 M1466.4,1097.6 v3.5 M1487.0,1097.6 v12 M1507.7,1097.6 v3.5 M1528.3,1097.6 v3.5 M1549.0,1097.6 v3.5 M1569.6,1097.6 v3.5 M1590.3,1097.6 v12 M1610.9,1097.6 v3.5 M1631.5,1097.6 v3.5 M1652.1,1097.6 v3.5 M1672.7,1097.6 v3.5 M1693.3,1097.6 v12 M1713.8,1097.6 v3.5 M1734.3,1097.6 v3.5 M1754.9,1097.6 v3.5 M1775.4,1097.6 v3.5 M1795.9,1097.6 v12 M1816.6,1097.6 v3.5 M1837.2,1097.6 v3.5 M1857.9,1097.6 v3.5 M1878.5,1097.6 v3.5 M1899.2,1097.6 v12 M1919.7,1097.6 v3.5 M1940.2,1097.6 v3.5 M1960.6,1097.6 v3.5 M1981.1,1097.6 v3.5 M2001.6,1097.6 v12 M2022.2,1097.6 v3.5 M2042.8,1097.6 v3.5 M2063.5,1097.6 v3.5 M2084.1,1097.6 v3.5 M2104.7,1097.6 v12 M2125.3,1097.6 v3.5 M2145.9,1097.6 v3.5 M2166.5,1097.6 v3.5 M2187.1,1097.6 v3.5 M2207.7,1097.6 v12 M2228.2,1097.6 v3.5 M2248.7,1097.6 v3.5 M2269.3,1097.6 v3.5 M2289.8,1097.6 v3.5 M2310.3,1097.6 v12 M2330.8,1097.6 v3.5 M2351.3,1097.6 v3.5 M2371.9,1097.6 v3.5 M2392.4,1097.6 v3.5 M2412.9,1097.6 v12 M2433.4,1097.6 v3.5 M2453.9,1097.6 v3.5 M2474.5,1097.6 v3.5" stroke="#999" stroke-width="2.4" fill="none"/>
<text transform="translate(1386.2,1151.8) scale(1,1.05)" x="0" y="0" font-size="28" text-anchor="middle" fill="#000" stroke="#000" stroke-width="0.45">700</text>
<text transform="translate(1488.6,1151.8) scale(1,1.05)" x="0" y="0" font-size="28" text-anchor="middle" fill="#000" stroke="#000" stroke-width="0.45">800</text>
<text transform="translate(1591.0,1151.8) scale(1,1.05)" x="0" y="0" font-size="28" text-anchor="middle" fill="#000" stroke="#000" stroke-width="0.45">900</text>
<text transform="translate(1693.4,1151.8) scale(1,1.05)" x="0" y="0" font-size="28" text-anchor="middle" fill="#000" stroke="#000" stroke-width="0.45">1000</text>
<text transform="translate(1795.8,1151.8) scale(1,1.05)" x="0" y="0" font-size="28" text-anchor="middle" fill="#000" stroke="#000" stroke-width="0.45">1100</text>
<text transform="translate(1898.2,1151.8) scale(1,1.05)" x="0" y="0" font-size="28" text-anchor="middle" fill="#000" stroke="#000" stroke-width="0.45">1200</text>
<text transform="translate(2000.6,1151.8) scale(1,1.05)" x="0" y="0" font-size="28" text-anchor="middle" fill="#000" stroke="#000" stroke-width="0.45">1300</text>
<text transform="translate(2103.0,1151.8) scale(1,1.05)" x="0" y="0" font-size="28" text-anchor="middle" fill="#000" stroke="#000" stroke-width="0.45">1400</text>
<text transform="translate(2205.4,1151.8) scale(1,1.05)" x="0" y="0" font-size="28" text-anchor="middle" fill="#000" stroke="#000" stroke-width="0.45">1500</text>
<text transform="translate(2307.8,1151.8) scale(1,1.05)" x="0" y="0" font-size="28" text-anchor="middle" fill="#000" stroke="#000" stroke-width="0.45">1600</text>
<text transform="translate(2410.2,1151.8) scale(1,1.05)" x="0" y="0" font-size="28" text-anchor="middle" fill="#000" stroke="#000" stroke-width="0.45">1700</text>
<path d="M1365.7,1070.7 C1367.1,1070.4 1366.2,1069.2 1374.3,1068.8 C1382.4,1068.4 1405.7,1070.3 1414.4,1068.4 C1423.2,1066.5 1423.1,1060.7 1426.8,1057.4 C1430.5,1054.1 1433.5,1050.7 1436.4,1048.8 C1439.3,1046.9 1441.7,1047.5 1444.0,1045.9 C1446.3,1044.3 1448.3,1038.6 1450.2,1039.2 C1452.1,1039.8 1453.8,1046.8 1455.5,1049.7 C1457.2,1052.6 1458.5,1056.2 1460.2,1056.4 C1462.0,1056.6 1464.2,1055.0 1466.0,1050.7 C1467.8,1046.4 1469.0,1031.7 1470.7,1030.6 C1472.5,1029.5 1474.4,1038.9 1476.5,1044.0 C1478.6,1049.1 1480.3,1057.7 1483.2,1061.2 C1486.1,1064.7 1489.4,1064.3 1493.7,1065.0 C1498.0,1065.7 1504.9,1066.5 1508.9,1065.5 C1512.9,1064.5 1515.3,1062.6 1517.5,1059.3 C1519.7,1056.0 1520.5,1050.4 1522.3,1045.9 C1524.0,1041.5 1526.1,1033.1 1528.0,1032.6 C1529.9,1032.1 1531.8,1039.0 1533.7,1043.1 C1535.6,1047.2 1537.4,1054.6 1539.5,1057.4 C1541.6,1060.2 1544.5,1059.5 1546.2,1059.8 C1548.0,1060.1 1548.4,1059.1 1550.0,1059.3 C1551.6,1059.5 1550.9,1060.7 1555.7,1061.2 C1560.5,1061.7 1573.3,1063.1 1578.7,1062.2 C1584.1,1061.3 1585.0,1056.3 1588.2,1056.0 C1591.4,1055.7 1594.6,1059.4 1597.8,1060.3 C1601.0,1061.2 1604.4,1061.4 1607.3,1061.2 C1610.2,1061.0 1612.7,1058.7 1614.9,1058.9 C1617.1,1059.1 1614.9,1062.0 1620.7,1062.2 C1628.7,1062.4 1654.6,1061.2 1662.7,1060.3 C1669.4,1059.3 1666.7,1059.7 1669.4,1056.5 C1672.1,1053.3 1676.2,1047.1 1678.9,1041.2 C1681.6,1035.3 1683.3,1059.0 1685.6,1021.1 C1687.9,983.2 1690.8,867.1 1692.6,814.0 C1694.4,760.9 1695.2,702.4 1696.7,702.4 C1698.2,702.4 1700.2,764.4 1701.9,814.0 C1703.6,863.6 1705.0,961.3 1706.6,1000.1 C1708.1,1038.9 1709.1,1041.4 1711.2,1046.6 C1713.3,1051.8 1716.4,1051.2 1719.0,1031.1 C1721.6,1010.9 1724.4,925.7 1726.7,925.7 C1729.0,925.7 1730.9,1010.4 1733.0,1031.1 C1735.1,1051.8 1737.0,1046.9 1739.1,1049.7 C1741.2,1052.5 1742.7,1047.0 1745.6,1048.0 C1748.5,1049.0 1752.6,1053.9 1756.7,1055.8 C1760.8,1057.7 1765.5,1059.8 1770.1,1059.2 C1774.7,1058.7 1780.2,1055.3 1784.5,1052.5 C1788.8,1049.7 1792.4,1042.6 1795.7,1042.4 C1799.0,1042.2 1800.9,1047.9 1804.6,1051.4 C1808.3,1054.9 1812.4,1061.5 1818.0,1063.6 C1823.6,1065.7 1833.4,1065.1 1838.0,1064.2 C1842.6,1063.3 1843.8,1062.0 1845.8,1058.0 C1847.8,1054.0 1849.1,1046.1 1850.2,1040.2 C1851.3,1034.3 1851.2,1023.3 1852.5,1022.4 C1853.8,1021.5 1856.2,1030.6 1858.0,1034.7 C1859.8,1038.8 1861.4,1048.0 1863.6,1046.9 C1865.8,1045.8 1869.2,1034.7 1871.4,1028.0 C1873.6,1021.3 1875.2,1013.7 1877.0,1006.8 C1878.8,999.9 1880.8,992.9 1882.5,986.8 C1884.2,980.7 1885.0,972.0 1887.0,970.1 C1889.0,968.2 1893.0,971.3 1894.8,975.6 C1896.6,979.9 1896.8,987.2 1898.1,995.7 C1899.4,1004.2 1900.5,1018.7 1902.6,1026.9 C1904.6,1035.1 1908.2,1039.9 1910.4,1044.7 C1912.6,1049.5 1912.8,1053.0 1916.0,1055.8 C1919.2,1058.6 1922.7,1060.4 1929.3,1061.4 C1935.9,1062.4 1950.1,1062.4 1955.6,1061.9 C1961.1,1061.4 1960.1,1059.0 1962.3,1058.6 C1964.5,1058.1 1967.0,1058.7 1969.0,1059.2 C1971.0,1059.8 1971.7,1062.1 1974.5,1061.9 C1977.3,1061.7 1981.6,1059.4 1985.7,1058.0 C1989.8,1056.6 1995.3,1054.0 1999.0,1053.6 C2002.7,1053.2 2004.7,1056.4 2008.0,1055.8 C2011.3,1055.2 2015.4,1053.3 2019.1,1050.2 C2022.8,1047.1 2027.4,1038.0 2030.2,1036.9 C2033.0,1035.8 2033.9,1040.6 2035.8,1043.6 C2037.7,1046.6 2038.6,1052.1 2041.4,1054.7 C2044.2,1057.3 2049.3,1058.6 2052.5,1059.2 C2055.7,1059.8 2057.7,1059.3 2060.3,1058.6 C2062.9,1057.8 2065.3,1054.6 2068.1,1054.7 C2070.9,1054.8 2073.7,1057.4 2077.0,1059.2 C2080.3,1061.0 2080.9,1064.3 2088.1,1065.3 C2095.3,1066.3 2112.6,1065.3 2120.0,1065.1 C2127.4,1064.9 2129.5,1065.8 2132.7,1063.9 C2135.9,1062.0 2137.2,1057.0 2139.1,1053.7 C2141.0,1050.4 2142.1,1044.7 2144.2,1044.1 C2146.3,1043.5 2149.6,1049.1 2151.8,1049.9 C2154.0,1050.8 2155.9,1048.4 2157.6,1049.2 C2159.3,1050.0 2160.2,1052.2 2162.0,1054.9 C2163.8,1057.6 2162.7,1063.4 2168.4,1065.1 C2174.1,1066.8 2189.6,1064.8 2196.4,1065.1 C2203.2,1065.4 2200.6,1066.7 2209.1,1067.0 C2217.6,1067.3 2237.1,1067.3 2247.3,1067.0 C2257.5,1066.7 2264.2,1066.7 2270.2,1065.1 C2276.1,1063.5 2280.0,1062.6 2283.0,1057.5 C2286.0,1052.4 2286.5,1041.6 2288.0,1034.6 C2289.5,1027.6 2290.6,1017.6 2291.9,1015.5 C2293.2,1013.4 2294.4,1018.0 2295.7,1021.8 C2297.0,1025.6 2298.3,1038.7 2299.5,1038.4 C2300.7,1038.1 2301.9,1027.0 2303.0,1020.0 C2304.1,1013.0 2304.8,1006.7 2305.9,996.4 C2307.0,986.1 2308.5,966.4 2309.7,958.2 C2310.9,950.0 2311.9,940.6 2313.0,947.0 C2314.1,953.4 2315.3,980.8 2316.5,996.4 C2317.7,1012.0 2319.1,1031.4 2320.4,1040.9 C2321.7,1050.4 2321.2,1049.8 2324.2,1053.6 C2327.2,1057.4 2331.6,1061.7 2338.2,1063.8 C2344.8,1065.9 2355.1,1066.1 2363.6,1066.3 C2372.1,1066.5 2379.8,1064.8 2389.1,1065.1 C2398.4,1065.4 2411.1,1068.2 2419.6,1068.3 C2428.1,1068.4 2429.8,1065.7 2440.0,1065.7 C2450.2,1065.7 2473.9,1067.9 2480.7,1068.3" fill="none" stroke="#5aa853" stroke-width="1.4" stroke-linejoin="round"/>
<path d="M1365.7,1010.6 C1366.2,1011.7 1367.5,1014.3 1368.6,1017.3 C1369.7,1020.3 1371.5,1026.2 1372.4,1028.7 C1373.4,1031.2 1373.4,1034.3 1374.3,1032.6 C1375.2,1030.8 1376.1,1017.7 1377.7,1018.2 C1379.3,1018.7 1382.2,1034.3 1383.9,1035.4 C1385.6,1036.5 1386.0,1025.4 1387.7,1024.9 C1389.4,1024.4 1392.2,1036.1 1393.9,1032.6 C1395.7,1029.1 1396.7,1011.2 1398.2,1003.9 C1399.7,996.6 1401.9,988.0 1403.0,988.6 C1404.1,989.2 1404.1,1000.7 1404.9,1007.7 C1405.7,1014.7 1406.7,1024.7 1407.7,1030.6 C1408.7,1036.5 1410.0,1043.7 1411.1,1043.1 C1412.2,1042.5 1412.9,1031.4 1414.4,1026.8 C1415.9,1022.2 1418.4,1014.3 1420.1,1015.4 C1421.8,1016.5 1423.1,1036.4 1424.4,1033.5 C1425.7,1030.6 1426.6,1007.1 1427.8,998.2 C1429.0,989.3 1430.3,981.1 1431.6,980.0 C1432.9,978.9 1434.3,987.5 1435.4,991.5 C1436.5,995.5 1437.0,1004.2 1438.3,1003.9 C1439.6,1003.6 1442.1,989.8 1443.5,989.6 C1444.9,989.5 1445.8,996.5 1446.9,1003.0 C1448.0,1009.5 1448.8,1027.6 1450.2,1028.7 C1451.6,1029.8 1453.5,1013.9 1455.5,1009.6 C1457.5,1005.3 1460.2,1002.5 1462.1,1003.0 C1464.0,1003.5 1465.5,1008.4 1466.9,1012.5 C1468.3,1016.6 1468.9,1026.0 1470.3,1027.8 C1471.7,1029.5 1473.8,1023.2 1475.5,1023.0 C1477.2,1022.8 1478.9,1024.7 1480.3,1026.8 C1481.7,1028.9 1482.5,1035.4 1484.1,1035.4 C1485.7,1035.4 1488.0,1030.0 1489.8,1026.8 C1491.5,1023.6 1492.8,1016.0 1494.6,1016.3 C1496.3,1016.6 1498.7,1031.7 1500.3,1028.7 C1501.9,1025.7 1503.0,1004.9 1504.2,998.2 C1505.4,991.5 1506.4,987.0 1507.5,988.6 C1508.6,990.2 1509.8,1002.8 1510.8,1007.7 C1511.8,1012.6 1512.1,1018.7 1513.7,1018.2 C1515.3,1017.7 1518.7,1005.4 1520.4,1004.9 C1522.2,1004.4 1522.8,1011.8 1524.2,1015.4 C1525.6,1019.0 1527.2,1022.8 1529.0,1026.8 C1530.8,1030.8 1533.0,1040.5 1534.7,1039.2 C1536.5,1037.9 1538.3,1024.0 1539.5,1019.2 C1540.7,1014.4 1540.5,1009.3 1541.9,1010.6 C1543.3,1011.9 1546.8,1024.4 1548.1,1026.8 C1549.4,1029.2 1548.8,1020.1 1550.0,1024.9 C1551.2,1029.7 1553.7,1056.8 1555.3,1055.5 C1556.9,1054.2 1558.3,1029.2 1559.6,1017.3 C1560.9,1005.4 1562.0,985.8 1562.9,983.9 C1563.9,982.0 1564.6,999.3 1565.3,1005.8 C1566.0,1012.3 1566.1,1021.4 1567.2,1023.0 C1568.3,1024.6 1570.5,1016.6 1572.0,1015.4 C1573.5,1014.2 1574.6,1017.1 1576.0,1016.0 C1577.4,1014.9 1578.9,1007.9 1580.6,1008.7 C1582.3,1009.6 1584.7,1020.3 1586.3,1021.1 C1587.9,1021.9 1588.3,1012.5 1590.1,1013.5 C1591.8,1014.5 1594.8,1026.9 1596.8,1026.9 C1598.8,1026.9 1600.5,1012.4 1602.1,1013.5 C1603.7,1014.6 1604.6,1035.1 1606.4,1033.5 C1608.2,1031.9 1611.2,1006.3 1613.0,1003.9 C1614.8,1001.5 1615.3,1018.7 1616.9,1019.2 C1618.5,1019.7 1620.4,1005.0 1622.6,1006.8 C1624.8,1008.5 1627.0,1030.8 1629.8,1029.7 C1632.6,1028.6 1636.7,1000.6 1639.3,1000.1 C1641.9,999.6 1643.5,1026.3 1645.5,1026.9 C1647.5,1027.5 1649.1,1009.2 1651.2,1003.9 C1653.3,998.6 1656.1,994.3 1657.9,995.3 C1659.7,996.3 1660.9,999.7 1662.2,1009.7 C1663.5,1019.7 1664.7,1045.8 1666.0,1055.5 C1667.3,1065.2 1668.9,1069.5 1670.3,1067.9 C1671.7,1066.3 1672.7,1056.2 1674.2,1046.0 C1675.7,1035.8 1677.7,1012.1 1679.4,1006.8 C1681.2,1001.5 1683.2,1017.4 1684.7,1014.4 C1686.2,1011.4 1687.2,1022.1 1688.5,988.7 C1689.8,955.3 1691.2,862.5 1692.6,814.0 C1694.0,765.5 1695.4,705.5 1696.7,697.8 C1698.0,690.0 1699.3,732.6 1700.4,767.5 C1701.5,802.4 1702.0,868.2 1703.5,907.0 C1705.0,945.8 1707.6,977.4 1709.7,1000.1 C1711.8,1022.9 1713.8,1048.7 1715.9,1043.5 C1718.0,1038.3 1720.3,991.3 1722.1,969.1 C1723.9,946.9 1724.9,912.8 1726.7,910.2 C1728.5,907.6 1730.8,940.3 1733.0,953.6 C1735.2,966.9 1738.5,980.4 1740.0,990.0 C1741.5,999.6 1741.3,1010.2 1742.2,1011.3 C1743.1,1012.4 1744.3,993.8 1745.6,996.8 C1746.9,999.8 1748.3,1025.8 1750.0,1029.1 C1751.7,1032.4 1754.0,1015.5 1755.6,1016.8 C1757.2,1018.1 1758.3,1038.6 1759.5,1036.9 C1760.7,1035.2 1761.4,1008.7 1762.8,1006.8 C1764.2,1004.9 1766.2,1028.5 1767.8,1025.7 C1769.4,1022.9 1770.8,992.9 1772.3,990.1 C1773.8,987.3 1774.7,1000.6 1776.7,1009.0 C1778.7,1017.4 1782.5,1040.9 1784.5,1040.2 C1786.5,1039.5 1787.3,1005.9 1789.0,1004.6 C1790.7,1003.3 1792.9,1028.9 1794.6,1032.4 C1796.3,1035.9 1797.2,1022.7 1799.0,1025.7 C1800.8,1028.7 1803.8,1056.1 1805.7,1050.2 C1807.6,1044.3 1809.0,1003.3 1810.2,990.1 C1811.4,976.9 1811.8,971.2 1812.9,971.2 C1814.0,971.2 1815.7,977.1 1816.8,990.1 C1817.9,1003.1 1817.9,1044.6 1819.6,1049.1 C1821.3,1053.5 1825.0,1022.0 1826.9,1016.8 C1828.9,1011.6 1829.8,1019.9 1831.3,1018.0 C1832.8,1016.1 1834.3,1006.1 1835.8,1005.7 C1837.3,1005.3 1838.5,1011.8 1840.2,1015.7 C1841.9,1019.6 1844.2,1025.6 1845.8,1029.1 C1847.4,1032.6 1848.6,1041.4 1849.7,1036.9 C1850.8,1032.5 1851.1,1013.0 1852.5,1002.4 C1853.9,991.8 1856.5,975.4 1858.0,973.4 C1859.5,971.4 1860.5,985.3 1861.4,990.1 C1862.3,994.9 1862.5,1001.1 1863.6,1002.4 C1864.7,1003.7 1866.7,993.6 1868.1,997.9 C1869.5,1002.2 1870.5,1026.9 1872.0,1028.0 C1873.5,1029.1 1874.9,1014.8 1877.0,1004.6 C1879.1,994.4 1882.3,967.3 1884.8,966.7 C1887.3,966.1 1890.2,998.2 1892.0,1001.2 C1893.8,1004.2 1894.3,990.8 1895.9,984.5 C1897.5,978.2 1899.7,960.0 1901.5,963.4 C1903.3,966.8 1905.0,998.9 1907.0,1004.6 C1909.0,1010.4 1911.8,1000.1 1913.7,997.9 C1915.6,995.7 1916.3,985.3 1918.2,991.2 C1920.1,997.1 1922.9,1030.9 1924.9,1033.5 C1926.9,1036.1 1928.8,1006.5 1930.4,1006.8 C1932.0,1007.1 1932.8,1034.6 1934.7,1035.5 C1936.6,1036.4 1939.9,1011.0 1941.7,1012.4 C1943.5,1013.8 1943.8,1041.6 1945.6,1043.6 C1947.4,1045.6 1950.3,1031.7 1952.3,1024.6 C1954.3,1017.5 1956.1,997.7 1957.8,1001.2 C1959.5,1004.7 1960.6,1042.6 1962.3,1045.8 C1964.0,1049.0 1965.8,1020.2 1967.9,1020.2 C1970.0,1020.2 1972.8,1050.8 1975.1,1045.8 C1977.4,1040.8 1979.7,992.0 1981.8,990.1 C1983.9,988.2 1985.9,1031.5 1987.9,1034.7 C1989.9,1037.9 1991.8,1005.5 1994.0,1009.0 C1996.2,1012.5 1999.0,1055.0 2001.3,1055.8 C2003.6,1056.5 2006.2,1019.1 2008.0,1013.5 C2009.8,1007.9 2010.7,1024.2 2012.4,1022.4 C2014.1,1020.5 2016.4,1003.5 2018.0,1002.4 C2019.6,1001.3 2020.1,1013.1 2021.9,1015.7 C2023.8,1018.3 2026.6,1025.8 2029.1,1018.0 C2031.6,1010.2 2035.1,975.5 2036.9,969.0 C2038.8,962.5 2039.0,968.8 2040.2,979.0 C2041.4,989.2 2042.8,1025.9 2044.1,1030.2 C2045.4,1034.5 2046.6,1006.6 2048.0,1004.6 C2049.4,1002.6 2051.4,1018.2 2052.5,1018.0 C2053.6,1017.8 2053.0,1002.6 2054.7,1003.5 C2056.4,1004.4 2060.2,1016.6 2062.5,1023.5 C2064.8,1030.4 2066.7,1049.5 2068.6,1044.7 C2070.5,1039.9 2071.9,1000.9 2073.7,994.6 C2075.5,988.3 2077.3,1004.0 2079.2,1006.8 C2081.0,1009.6 2082.8,1007.9 2084.8,1011.3 C2086.9,1014.6 2088.3,1026.2 2091.5,1026.9 C2094.7,1027.6 2100.9,1015.9 2103.7,1015.7 C2106.5,1015.5 2106.3,1021.6 2108.2,1025.7 C2110.1,1029.8 2113.1,1034.0 2114.9,1040.2 C2116.8,1046.4 2117.8,1068.6 2119.3,1063.0 C2120.8,1057.4 2122.5,1019.3 2123.8,1006.8 C2125.1,994.3 2125.8,986.8 2127.1,988.0 C2128.4,989.2 2130.1,1008.1 2131.5,1014.2 C2132.9,1020.3 2134.1,1024.0 2135.3,1024.4 C2136.5,1024.8 2137.4,1015.7 2138.5,1016.8 C2139.6,1017.9 2140.0,1036.3 2141.6,1030.8 C2143.2,1025.3 2146.0,993.2 2148.0,983.7 C2150.0,974.2 2152.0,978.8 2153.7,973.5 C2155.3,968.2 2156.5,952.6 2157.9,951.8 C2159.3,950.9 2160.9,959.9 2162.0,968.4 C2163.1,976.9 2163.7,994.6 2164.6,1002.7 C2165.5,1010.8 2166.5,1018.1 2167.7,1016.8 C2168.9,1015.5 2170.0,993.2 2171.6,995.1 C2173.2,997.0 2175.3,1027.1 2177.3,1028.2 C2179.3,1029.3 2181.8,1003.4 2183.7,1001.5 C2185.6,999.6 2186.6,1011.5 2188.7,1016.8 C2190.8,1022.1 2194.4,1033.5 2196.4,1033.3 C2198.4,1033.1 2199.4,1015.7 2200.8,1015.5 C2202.2,1015.3 2203.1,1031.2 2204.7,1032.0 C2206.3,1032.8 2208.6,1020.2 2210.4,1020.6 C2212.2,1021.0 2213.8,1036.5 2215.5,1034.6 C2217.2,1032.7 2218.7,1011.6 2220.6,1009.1 C2222.5,1006.6 2224.6,1019.7 2226.9,1019.3 C2229.2,1018.9 2232.3,1002.4 2234.6,1006.6 C2236.9,1010.9 2238.8,1044.4 2240.9,1044.8 C2243.0,1045.2 2245.2,1016.5 2247.3,1009.1 C2249.4,1001.7 2252.0,995.3 2253.7,1000.2 C2255.4,1005.1 2255.8,1038.2 2257.5,1038.4 C2259.2,1038.6 2261.7,998.1 2263.9,1001.5 C2266.1,1004.9 2268.8,1054.1 2270.9,1058.8 C2273.0,1063.5 2274.9,1033.5 2276.6,1029.5 C2278.3,1025.5 2279.7,1036.9 2281.0,1034.6 C2282.3,1032.3 2283.0,1015.9 2284.2,1015.5 C2285.4,1015.1 2286.2,1036.9 2288.0,1032.0 C2289.8,1027.1 2293.2,986.2 2295.0,986.2 C2296.8,986.2 2297.5,1027.3 2298.9,1032.0 C2300.3,1036.7 2301.8,1018.9 2303.3,1014.2 C2304.8,1009.5 2306.5,1011.2 2307.8,1004.0 C2309.1,996.8 2309.9,980.6 2311.0,970.9 C2312.1,961.1 2312.4,948.9 2314.1,945.5 C2315.8,942.1 2319.2,944.1 2321.0,950.5 C2322.8,956.9 2323.7,972.6 2324.8,983.6 C2325.9,994.6 2326.5,1009.5 2327.4,1016.7 C2328.3,1023.9 2329.4,1027.1 2330.5,1026.9 C2331.6,1026.7 2332.1,1013.7 2333.7,1015.4 C2335.3,1017.1 2338.4,1036.7 2340.1,1037.1 C2341.8,1037.5 2342.4,1017.1 2343.9,1018.0 C2345.4,1018.9 2347.1,1044.8 2349.0,1042.2 C2350.9,1039.7 2353.2,1001.9 2355.4,1002.7 C2357.6,1003.6 2360.5,1046.2 2362.4,1047.3 C2364.3,1048.4 2365.2,1012.1 2366.8,1009.1 C2368.4,1006.1 2369.6,1030.5 2371.9,1029.4 C2374.2,1028.3 2378.2,1002.9 2380.8,1002.7 C2383.5,1002.5 2385.6,1025.4 2387.8,1028.2 C2390.0,1031.0 2392.3,1024.8 2394.2,1019.3 C2396.1,1013.8 2397.7,994.9 2399.3,995.1 C2400.9,995.3 2401.9,1023.0 2403.7,1020.5 C2405.5,1018.0 2408.3,981.7 2410.1,979.8 C2411.9,977.9 2412.9,998.1 2414.5,1009.1 C2416.1,1020.1 2417.8,1043.5 2419.6,1046.0 C2421.4,1048.5 2423.6,1034.2 2425.3,1024.4 C2427.0,1014.6 2427.9,988.0 2429.8,987.4 C2431.7,986.8 2435.1,1019.9 2436.8,1020.5 C2438.5,1021.1 2438.0,993.2 2440.0,991.3 C2442.0,989.4 2446.6,1002.5 2448.9,1009.1 C2451.2,1015.7 2452.2,1031.8 2454.0,1030.7 C2455.8,1029.6 2457.8,1004.2 2459.7,1002.7 C2461.6,1001.2 2463.6,1017.5 2465.4,1021.8 C2467.2,1026.0 2468.8,1027.8 2470.5,1028.2 C2472.2,1028.6 2473.9,1023.1 2475.6,1024.4 C2477.3,1025.7 2479.8,1033.9 2480.7,1035.8" fill="none" stroke="#e2707b" stroke-width="1.5" stroke-linejoin="round"/>
<text transform="translate(1386,758.2) scale(1.01,1.065)" x="0" y="0" font-size="50" fill="#000" stroke="#000" stroke-width="0.35">PS</text>
<text transform="translate(1324.2,1154) rotate(-90)" x="0" y="0" font-size="38.5" fill="#000">Raman intensity (arbitrary)</text>
<text transform="translate(1716.0,1231.0) scale(1,1.03)" x="0" y="0" font-size="44.2" fill="#000">Raman shift (cm<tspan x="322.6" y="-11.4" font-size="28">-</tspan><tspan x="331.8" y="-14.1" font-size="28">1</tspan><tspan x="350.7" y="0">)</tspan></text>
</svg></div></body></html>
